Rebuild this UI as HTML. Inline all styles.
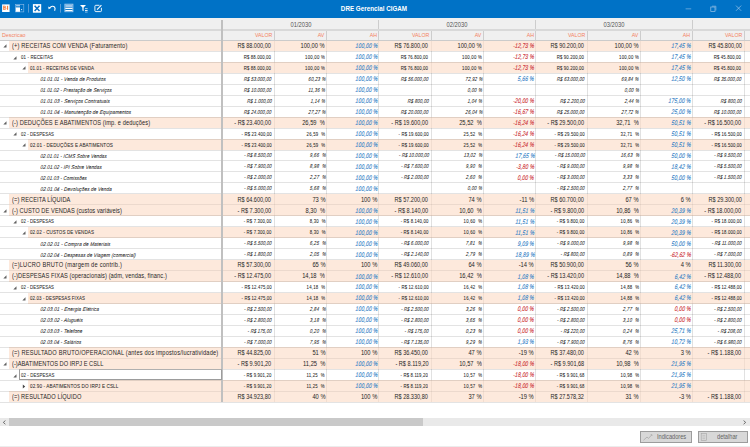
<!DOCTYPE html><html><head><meta charset="utf-8"><style>
*{margin:0;padding:0;box-sizing:border-box}
html,body{width:750px;height:447px;overflow:hidden;background:#fff}
body{position:relative;font-family:"Liberation Sans",sans-serif;color:#262626}
.a{position:absolute}
.t{position:absolute;white-space:nowrap;line-height:1;-webkit-text-stroke:0.1px currentColor}
.r{text-align:right}
</style></head><body>

<div class="a" style="left:0.00px;top:0.00px;width:750.00px;height:17.60px;background:#0072c6;"></div>
<div class="a" style="left:0.00px;top:17.60px;width:750.00px;height:22.70px;background:#f0f0f0;"></div>
<div class="a" style="left:0.00px;top:28.80px;width:750.00px;height:2.00px;background:#d9d9d9;"></div>
<div class="a" style="left:274.00px;top:40.30px;width:1.00px;height:362.01px;background:#e1e1e1;"></div>
<div class="a" style="left:326.20px;top:40.30px;width:1.00px;height:362.01px;background:#e1e1e1;"></div>
<div class="a" style="left:378.20px;top:40.30px;width:1.00px;height:362.01px;background:#e1e1e1;"></div>
<div class="a" style="left:431.10px;top:40.30px;width:1.00px;height:362.01px;background:#e1e1e1;"></div>
<div class="a" style="left:483.10px;top:40.30px;width:1.00px;height:362.01px;background:#e1e1e1;"></div>
<div class="a" style="left:535.10px;top:40.30px;width:1.00px;height:362.01px;background:#e1e1e1;"></div>
<div class="a" style="left:587.10px;top:40.30px;width:1.00px;height:362.01px;background:#e1e1e1;"></div>
<div class="a" style="left:639.90px;top:40.30px;width:1.00px;height:362.01px;background:#e1e1e1;"></div>
<div class="a" style="left:691.90px;top:40.30px;width:1.00px;height:362.01px;background:#e1e1e1;"></div>
<div class="a" style="left:744.20px;top:40.30px;width:1.00px;height:362.01px;background:#e1e1e1;"></div>
<div class="a" style="left:9.30px;top:40.30px;width:740.70px;height:10.97px;background:rgba(252,218,197,0.6);"></div>
<div class="a" style="left:28.00px;top:62.24px;width:722.00px;height:10.97px;background:rgba(252,218,197,0.6);"></div>
<div class="a" style="left:9.30px;top:117.09px;width:740.70px;height:10.97px;background:rgba(252,218,197,0.6);"></div>
<div class="a" style="left:28.00px;top:139.03px;width:722.00px;height:10.97px;background:rgba(252,218,197,0.6);"></div>
<div class="a" style="left:9.30px;top:193.88px;width:740.70px;height:10.97px;background:rgba(252,218,197,0.6);"></div>
<div class="a" style="left:9.30px;top:204.85px;width:740.70px;height:10.97px;background:rgba(252,218,197,0.6);"></div>
<div class="a" style="left:28.00px;top:226.79px;width:722.00px;height:10.97px;background:rgba(252,218,197,0.6);"></div>
<div class="a" style="left:9.30px;top:259.70px;width:740.70px;height:10.97px;background:rgba(252,218,197,0.6);"></div>
<div class="a" style="left:9.30px;top:270.67px;width:740.70px;height:10.97px;background:rgba(252,218,197,0.6);"></div>
<div class="a" style="left:28.00px;top:292.61px;width:722.00px;height:10.97px;background:rgba(252,218,197,0.6);"></div>
<div class="a" style="left:9.30px;top:347.46px;width:740.70px;height:10.97px;background:rgba(252,218,197,0.6);"></div>
<div class="a" style="left:9.30px;top:358.43px;width:740.70px;height:10.97px;background:rgba(252,218,197,0.6);"></div>
<div class="a" style="left:28.00px;top:380.37px;width:722.00px;height:10.97px;background:rgba(252,218,197,0.6);"></div>
<div class="a" style="left:9.30px;top:391.34px;width:740.70px;height:10.97px;background:rgba(252,218,197,0.6);"></div>
<div class="a" style="left:0.00px;top:50.77px;width:750.00px;height:1.00px;background:rgba(0,0,0,0.11);"></div>
<div class="a" style="left:0.00px;top:61.74px;width:750.00px;height:1.00px;background:rgba(0,0,0,0.11);"></div>
<div class="a" style="left:0.00px;top:72.71px;width:750.00px;height:1.00px;background:rgba(0,0,0,0.11);"></div>
<div class="a" style="left:0.00px;top:83.68px;width:750.00px;height:1.00px;background:rgba(0,0,0,0.11);"></div>
<div class="a" style="left:0.00px;top:94.65px;width:750.00px;height:1.00px;background:rgba(0,0,0,0.11);"></div>
<div class="a" style="left:0.00px;top:105.62px;width:750.00px;height:1.00px;background:rgba(0,0,0,0.11);"></div>
<div class="a" style="left:0.00px;top:116.59px;width:750.00px;height:1.00px;background:rgba(0,0,0,0.11);"></div>
<div class="a" style="left:0.00px;top:127.56px;width:750.00px;height:1.00px;background:rgba(0,0,0,0.11);"></div>
<div class="a" style="left:0.00px;top:138.53px;width:750.00px;height:1.00px;background:rgba(0,0,0,0.11);"></div>
<div class="a" style="left:0.00px;top:149.50px;width:750.00px;height:1.00px;background:rgba(0,0,0,0.11);"></div>
<div class="a" style="left:0.00px;top:160.47px;width:750.00px;height:1.00px;background:rgba(0,0,0,0.11);"></div>
<div class="a" style="left:0.00px;top:171.44px;width:750.00px;height:1.00px;background:rgba(0,0,0,0.11);"></div>
<div class="a" style="left:0.00px;top:182.41px;width:750.00px;height:1.00px;background:rgba(0,0,0,0.11);"></div>
<div class="a" style="left:0.00px;top:193.38px;width:750.00px;height:1.00px;background:rgba(0,0,0,0.11);"></div>
<div class="a" style="left:0.00px;top:204.35px;width:9.30px;height:1.00px;background:rgba(0,0,0,0.11);"></div>
<div class="a" style="left:9.30px;top:204.35px;width:740.70px;height:1.00px;background:rgba(0,0,0,0.065);"></div>
<div class="a" style="left:0.00px;top:215.32px;width:750.00px;height:1.00px;background:rgba(0,0,0,0.11);"></div>
<div class="a" style="left:0.00px;top:226.29px;width:750.00px;height:1.00px;background:rgba(0,0,0,0.11);"></div>
<div class="a" style="left:0.00px;top:237.26px;width:750.00px;height:1.00px;background:rgba(0,0,0,0.11);"></div>
<div class="a" style="left:0.00px;top:248.23px;width:750.00px;height:1.00px;background:rgba(0,0,0,0.11);"></div>
<div class="a" style="left:0.00px;top:259.20px;width:750.00px;height:1.00px;background:rgba(0,0,0,0.11);"></div>
<div class="a" style="left:0.00px;top:270.17px;width:9.30px;height:1.00px;background:rgba(0,0,0,0.11);"></div>
<div class="a" style="left:9.30px;top:270.17px;width:740.70px;height:1.00px;background:rgba(0,0,0,0.065);"></div>
<div class="a" style="left:0.00px;top:281.14px;width:750.00px;height:1.00px;background:rgba(0,0,0,0.11);"></div>
<div class="a" style="left:0.00px;top:292.11px;width:750.00px;height:1.00px;background:rgba(0,0,0,0.11);"></div>
<div class="a" style="left:0.00px;top:303.08px;width:750.00px;height:1.00px;background:rgba(0,0,0,0.11);"></div>
<div class="a" style="left:0.00px;top:314.05px;width:750.00px;height:1.00px;background:rgba(0,0,0,0.11);"></div>
<div class="a" style="left:0.00px;top:325.02px;width:750.00px;height:1.00px;background:rgba(0,0,0,0.11);"></div>
<div class="a" style="left:0.00px;top:335.99px;width:750.00px;height:1.00px;background:rgba(0,0,0,0.11);"></div>
<div class="a" style="left:0.00px;top:346.96px;width:750.00px;height:1.00px;background:rgba(0,0,0,0.11);"></div>
<div class="a" style="left:0.00px;top:357.93px;width:9.30px;height:1.00px;background:rgba(0,0,0,0.11);"></div>
<div class="a" style="left:9.30px;top:357.93px;width:740.70px;height:1.00px;background:rgba(0,0,0,0.065);"></div>
<div class="a" style="left:0.00px;top:368.90px;width:750.00px;height:1.00px;background:rgba(0,0,0,0.11);"></div>
<div class="a" style="left:0.00px;top:379.87px;width:750.00px;height:1.00px;background:rgba(0,0,0,0.11);"></div>
<div class="a" style="left:0.00px;top:390.84px;width:28.00px;height:1.00px;background:rgba(0,0,0,0.11);"></div>
<div class="a" style="left:28.00px;top:390.84px;width:722.00px;height:1.00px;background:rgba(0,0,0,0.065);"></div>
<div class="a" style="left:0.00px;top:401.81px;width:750.00px;height:1.00px;background:rgba(0,0,0,0.11);"></div>
<div class="a" style="left:0.00px;top:39.70px;width:750.00px;height:1.00px;background:#cbcbcb;"></div>
<div class="a" style="left:274.00px;top:30.80px;width:1.00px;height:9.00px;background:#cdcdcd;"></div>
<div class="a" style="left:326.20px;top:30.80px;width:1.00px;height:9.00px;background:#cdcdcd;"></div>
<div class="a" style="left:378.20px;top:30.80px;width:1.00px;height:9.00px;background:#cdcdcd;"></div>
<div class="a" style="left:431.10px;top:30.80px;width:1.00px;height:9.00px;background:#cdcdcd;"></div>
<div class="a" style="left:483.10px;top:30.80px;width:1.00px;height:9.00px;background:#cdcdcd;"></div>
<div class="a" style="left:535.10px;top:30.80px;width:1.00px;height:9.00px;background:#cdcdcd;"></div>
<div class="a" style="left:587.10px;top:30.80px;width:1.00px;height:9.00px;background:#cdcdcd;"></div>
<div class="a" style="left:639.90px;top:30.80px;width:1.00px;height:9.00px;background:#cdcdcd;"></div>
<div class="a" style="left:691.90px;top:30.80px;width:1.00px;height:9.00px;background:#cdcdcd;"></div>
<div class="a" style="left:744.20px;top:30.80px;width:1.00px;height:9.00px;background:#cdcdcd;"></div>
<div class="a" style="left:378.20px;top:19.50px;width:1.00px;height:9.30px;background:#cdcdcd;"></div>
<div class="a" style="left:535.10px;top:19.50px;width:1.00px;height:9.30px;background:#cdcdcd;"></div>
<div class="a" style="left:691.90px;top:19.50px;width:1.00px;height:9.30px;background:#cdcdcd;"></div>
<div class="a" style="left:221.00px;top:19.80px;width:2.00px;height:382.51px;background:#c0c0c0;"></div>
<div class="t" style="left:2.00px;top:33.01px;font-size:5.3px;-webkit-text-stroke:0px;color:#f4825e;">Descricao</div>
<div class="t" style="left:100.50px;width:400px;text-align:center;top:22.27px;font-size:6.3px;-webkit-text-stroke:0px;transform:scaleX(0.92);transform-origin:50% 0;color:#555;">01/2030</div>
<div class="t" style="left:257.15px;width:400px;text-align:center;top:22.27px;font-size:6.3px;-webkit-text-stroke:0px;transform:scaleX(0.92);transform-origin:50% 0;color:#555;">02/2030</div>
<div class="t" style="left:414.00px;width:400px;text-align:center;top:22.27px;font-size:6.3px;-webkit-text-stroke:0px;transform:scaleX(0.92);transform-origin:50% 0;color:#555;">03/2030</div>
<div class="t" style="right:477.50px;top:33.09px;font-size:5.8px;-webkit-text-stroke:0px;transform:scaleX(0.9);transform-origin:100% 100%;color:#f4825e;">VALOR</div>
<div class="t" style="right:425.30px;top:33.09px;font-size:5.8px;-webkit-text-stroke:0px;transform:scaleX(0.9);transform-origin:100% 100%;color:#f4825e;">AV</div>
<div class="t" style="right:373.30px;top:33.09px;font-size:5.8px;-webkit-text-stroke:0px;transform:scaleX(0.9);transform-origin:100% 100%;color:#f4825e;">AH</div>
<div class="t" style="right:320.40px;top:33.09px;font-size:5.8px;-webkit-text-stroke:0px;transform:scaleX(0.9);transform-origin:100% 100%;color:#f4825e;">VALOR</div>
<div class="t" style="right:268.40px;top:33.09px;font-size:5.8px;-webkit-text-stroke:0px;transform:scaleX(0.9);transform-origin:100% 100%;color:#f4825e;">AV</div>
<div class="t" style="right:216.40px;top:33.09px;font-size:5.8px;-webkit-text-stroke:0px;transform:scaleX(0.9);transform-origin:100% 100%;color:#f4825e;">AH</div>
<div class="t" style="right:164.40px;top:33.09px;font-size:5.8px;-webkit-text-stroke:0px;transform:scaleX(0.9);transform-origin:100% 100%;color:#f4825e;">VALOR</div>
<div class="t" style="right:111.60px;top:33.09px;font-size:5.8px;-webkit-text-stroke:0px;transform:scaleX(0.9);transform-origin:100% 100%;color:#f4825e;">AV</div>
<div class="t" style="right:59.60px;top:33.09px;font-size:5.8px;-webkit-text-stroke:0px;transform:scaleX(0.9);transform-origin:100% 100%;color:#f4825e;">AH</div>
<div class="t" style="right:7.30px;top:33.09px;font-size:5.8px;-webkit-text-stroke:0px;transform:scaleX(0.9);transform-origin:100% 100%;color:#f4825e;">VALOR</div>
<div class="t" style="right:-45.00px;top:33.09px;font-size:5.8px;-webkit-text-stroke:0px;transform:scaleX(0.9);transform-origin:100% 100%;color:#f4825e;">AV</div>
<div class="t" style="left:11.60px;top:43.01px;font-size:6.6px;letter-spacing:0.186px;-webkit-text-stroke:0px;transform:scaleX(0.86);transform-origin:0 100%;">(+) RECEITAS COM VENDA (Faturamento)</div>
<svg class="a" style="left:3.30px;top:44.30px" width="4" height="4" viewBox="0 0 4 4"><path d="M3.5 0.3 L3.5 3.5 L0.3 3.5 Z" fill="#606060"/></svg>
<div class="t" style="left:21.00px;top:54.88px;font-size:5.3px;letter-spacing:0.120px;-webkit-text-stroke:0.05px currentColor;transform:scaleX(0.8386314255833363);transform-origin:0 100%;">01 - RECEITAS</div>
<svg class="a" style="left:12.80px;top:55.67px" width="4" height="4" viewBox="0 0 4 4"><path d="M3.5 0.3 L3.5 3.5 L0.3 3.5 Z" fill="#606060"/></svg>
<div class="t" style="left:30.00px;top:65.85px;font-size:5.3px;letter-spacing:0.120px;-webkit-text-stroke:0.05px currentColor;transform:scaleX(0.8473110699039907);transform-origin:0 100%;">01.01 - RECEITAS DE VENDA</div>
<svg class="a" style="left:22.40px;top:66.24px" width="4" height="4" viewBox="0 0 4 4"><path d="M3.5 0.3 L3.5 3.5 L0.3 3.5 Z" fill="#606060"/></svg>
<div class="t" style="left:39.60px;top:77.05px;font-size:5.5px;letter-spacing:0.120px;-webkit-text-stroke:0.05px currentColor;transform:scaleX(0.8557479207386388) skewX(-8deg);transform-origin:0 100%;font-style:italic;">01.01.01 - Venda de Produtos</div>
<div class="t" style="left:39.60px;top:88.02px;font-size:5.5px;letter-spacing:0.120px;-webkit-text-stroke:0.05px currentColor;transform:scaleX(0.8395616994069273) skewX(-8deg);transform-origin:0 100%;font-style:italic;">01.01.02 - Prestação de Serviços</div>
<div class="t" style="left:39.60px;top:98.99px;font-size:5.5px;letter-spacing:0.120px;-webkit-text-stroke:0.05px currentColor;transform:scaleX(0.8606109105141753) skewX(-8deg);transform-origin:0 100%;font-style:italic;">01.01.03 - Serviços Contratuais</div>
<div class="t" style="left:39.60px;top:109.96px;font-size:5.5px;letter-spacing:0.120px;-webkit-text-stroke:0.05px currentColor;transform:scaleX(0.8629179313253227) skewX(-8deg);transform-origin:0 100%;font-style:italic;">01.01.04 - Manutenção de Equipamentos</div>
<div class="t" style="left:11.60px;top:119.80px;font-size:6.6px;letter-spacing:0.135px;-webkit-text-stroke:0px;transform:scaleX(0.86);transform-origin:0 100%;">(-) DEDUÇÕES E ABATIMENTOS (imp. e deduções)</div>
<svg class="a" style="left:3.30px;top:121.09px" width="4" height="4" viewBox="0 0 4 4"><path d="M3.5 0.3 L3.5 3.5 L0.3 3.5 Z" fill="#606060"/></svg>
<div class="t" style="left:21.00px;top:131.67px;font-size:5.3px;letter-spacing:0.120px;-webkit-text-stroke:0.05px currentColor;transform:scaleX(0.8124358071849793);transform-origin:0 100%;">02 - DESPESAS</div>
<svg class="a" style="left:12.80px;top:132.46px" width="4" height="4" viewBox="0 0 4 4"><path d="M3.5 0.3 L3.5 3.5 L0.3 3.5 Z" fill="#606060"/></svg>
<div class="t" style="left:30.00px;top:142.64px;font-size:5.3px;letter-spacing:0.120px;-webkit-text-stroke:0.05px currentColor;transform:scaleX(0.8720552743830315);transform-origin:0 100%;">02.01 - DEDUÇÕES E ABATIMENTOS</div>
<svg class="a" style="left:22.40px;top:143.03px" width="4" height="4" viewBox="0 0 4 4"><path d="M3.5 0.3 L3.5 3.5 L0.3 3.5 Z" fill="#606060"/></svg>
<div class="t" style="left:39.60px;top:153.84px;font-size:5.5px;letter-spacing:0.120px;-webkit-text-stroke:0.05px currentColor;transform:scaleX(0.835535422171889) skewX(-8deg);transform-origin:0 100%;font-style:italic;">02.01.01 - ICMS Sobre Vendas</div>
<div class="t" style="left:39.60px;top:164.81px;font-size:5.5px;letter-spacing:0.120px;-webkit-text-stroke:0.05px currentColor;transform:scaleX(0.8489503162283758) skewX(-8deg);transform-origin:0 100%;font-style:italic;">02.01.02 - IPI Sobre Vendas</div>
<div class="t" style="left:39.60px;top:175.78px;font-size:5.5px;letter-spacing:0.120px;-webkit-text-stroke:0.05px currentColor;transform:scaleX(0.8318463594116345) skewX(-8deg);transform-origin:0 100%;font-style:italic;">02.01.03 - Comissões</div>
<div class="t" style="left:39.60px;top:186.75px;font-size:5.5px;letter-spacing:0.120px;-webkit-text-stroke:0.05px currentColor;transform:scaleX(0.8562282001051174) skewX(-8deg);transform-origin:0 100%;font-style:italic;">02.01.04 - Devoluções de Venda</div>
<div class="t" style="left:11.60px;top:196.59px;font-size:6.6px;letter-spacing:0.102px;-webkit-text-stroke:0px;transform:scaleX(0.86);transform-origin:0 100%;">(=) RECEITA LÍQUIDA</div>
<div class="t" style="left:11.60px;top:207.56px;font-size:6.6px;letter-spacing:0.090px;-webkit-text-stroke:0px;transform:scaleX(0.86);transform-origin:0 100%;">(-) CUSTO DE VENDAS (custos variáveis)</div>
<svg class="a" style="left:3.30px;top:208.85px" width="4" height="4" viewBox="0 0 4 4"><path d="M3.5 0.3 L3.5 3.5 L0.3 3.5 Z" fill="#606060"/></svg>
<div class="t" style="left:21.00px;top:219.43px;font-size:5.3px;letter-spacing:0.120px;-webkit-text-stroke:0.05px currentColor;transform:scaleX(0.8124358071849793);transform-origin:0 100%;">02 - DESPESAS</div>
<svg class="a" style="left:12.80px;top:220.22px" width="4" height="4" viewBox="0 0 4 4"><path d="M3.5 0.3 L3.5 3.5 L0.3 3.5 Z" fill="#606060"/></svg>
<div class="t" style="left:30.00px;top:230.40px;font-size:5.3px;letter-spacing:0.120px;-webkit-text-stroke:0.05px currentColor;transform:scaleX(0.8553280295756395);transform-origin:0 100%;">02.02 - CUSTOS DE VENDAS</div>
<svg class="a" style="left:22.40px;top:230.79px" width="4" height="4" viewBox="0 0 4 4"><path d="M3.5 0.3 L3.5 3.5 L0.3 3.5 Z" fill="#606060"/></svg>
<div class="t" style="left:39.60px;top:241.60px;font-size:5.5px;letter-spacing:0.120px;-webkit-text-stroke:0.05px currentColor;transform:scaleX(0.8660820612753058) skewX(-8deg);transform-origin:0 100%;font-style:italic;">02.02.01 - Compra de Materiais</div>
<div class="t" style="left:39.60px;top:252.57px;font-size:5.5px;letter-spacing:0.120px;-webkit-text-stroke:0.05px currentColor;transform:scaleX(0.8517714547189501) skewX(-8deg);transform-origin:0 100%;font-style:italic;">02.02.04 - Despesas de Viagem (comercial)</div>
<div class="t" style="left:11.60px;top:262.41px;font-size:6.6px;letter-spacing:0.254px;-webkit-text-stroke:0px;transform:scaleX(0.86);transform-origin:0 100%;">(=)LUCRO BRUTO (margem de contrib.)</div>
<div class="t" style="left:11.60px;top:273.38px;font-size:6.6px;letter-spacing:0.118px;-webkit-text-stroke:0px;transform:scaleX(0.86);transform-origin:0 100%;">(-)DESPESAS FIXAS (operacionais) (adm, vendas, financ.)</div>
<svg class="a" style="left:3.30px;top:274.67px" width="4" height="4" viewBox="0 0 4 4"><path d="M3.5 0.3 L3.5 3.5 L0.3 3.5 Z" fill="#606060"/></svg>
<div class="t" style="left:21.00px;top:285.25px;font-size:5.3px;letter-spacing:0.120px;-webkit-text-stroke:0.05px currentColor;transform:scaleX(0.8124358071849793);transform-origin:0 100%;">02 - DESPESAS</div>
<svg class="a" style="left:12.80px;top:286.04px" width="4" height="4" viewBox="0 0 4 4"><path d="M3.5 0.3 L3.5 3.5 L0.3 3.5 Z" fill="#606060"/></svg>
<div class="t" style="left:30.00px;top:296.22px;font-size:5.3px;letter-spacing:0.120px;-webkit-text-stroke:0.05px currentColor;transform:scaleX(0.8351786748514178);transform-origin:0 100%;">02.03 - DESPESAS FIXAS</div>
<svg class="a" style="left:22.40px;top:296.61px" width="4" height="4" viewBox="0 0 4 4"><path d="M3.5 0.3 L3.5 3.5 L0.3 3.5 Z" fill="#606060"/></svg>
<div class="t" style="left:39.60px;top:307.42px;font-size:5.5px;letter-spacing:0.120px;-webkit-text-stroke:0.05px currentColor;transform:scaleX(0.8616321600906693) skewX(-8deg);transform-origin:0 100%;font-style:italic;">02.03.01 - Energia Elétrica</div>
<div class="t" style="left:39.60px;top:318.39px;font-size:5.5px;letter-spacing:0.120px;-webkit-text-stroke:0.05px currentColor;transform:scaleX(0.8591542383855397) skewX(-8deg);transform-origin:0 100%;font-style:italic;">02.03.02 - Aluguéis</div>
<div class="t" style="left:39.60px;top:329.36px;font-size:5.5px;letter-spacing:0.120px;-webkit-text-stroke:0.05px currentColor;transform:scaleX(0.850960100165095) skewX(-8deg);transform-origin:0 100%;font-style:italic;">02.03.03 - Telefone</div>
<div class="t" style="left:39.60px;top:340.33px;font-size:5.5px;letter-spacing:0.120px;-webkit-text-stroke:0.05px currentColor;transform:scaleX(0.8442425516093052) skewX(-8deg);transform-origin:0 100%;font-style:italic;">02.03.04 - Salários</div>
<div class="t" style="left:11.60px;top:350.17px;font-size:6.6px;letter-spacing:0.223px;-webkit-text-stroke:0px;transform:scaleX(0.86);transform-origin:0 100%;">(=) RESULTADO BRUTO/OPERACIONAL (antes dos impostos/lucratividade)</div>
<div class="t" style="left:11.60px;top:361.14px;font-size:6.6px;letter-spacing:0.019px;-webkit-text-stroke:0px;transform:scaleX(0.86);transform-origin:0 100%;">(-)ABATIMENTOS DO IRPJ E CSLL</div>
<svg class="a" style="left:3.30px;top:362.43px" width="4" height="4" viewBox="0 0 4 4"><path d="M3.5 0.3 L3.5 3.5 L0.3 3.5 Z" fill="#606060"/></svg>
<div class="t" style="left:21.00px;top:373.01px;font-size:5.3px;letter-spacing:0.120px;-webkit-text-stroke:0.05px currentColor;transform:scaleX(0.8222835139387366);transform-origin:0 100%;">02 - DESPESAS</div>
<svg class="a" style="left:12.80px;top:373.80px" width="4" height="4" viewBox="0 0 4 4"><path d="M3.5 0.3 L3.5 3.5 L0.3 3.5 Z" fill="#606060"/></svg>
<div class="t" style="left:30.00px;top:383.98px;font-size:5.3px;letter-spacing:0.120px;-webkit-text-stroke:0.05px currentColor;transform:scaleX(0.8730240416464071);transform-origin:0 100%;">02.90 - ABATIMENTOS DO IRPJ E CSLL</div>
<svg class="a" style="left:22.40px;top:383.97px" width="4" height="5" viewBox="0 0 4 5"><path d="M0.8 0.5 L3.2 2.5 L0.8 4.5 Z" fill="#444"/></svg>
<div class="t" style="left:11.60px;top:394.05px;font-size:6.6px;letter-spacing:0.114px;-webkit-text-stroke:0px;transform:scaleX(0.86);transform-origin:0 100%;">(=) RESULTADO LÍQUIDO</div>
<div class="t" style="right:478.80px;top:43.04px;font-size:6.8px;-webkit-text-stroke:0px;transform:scaleX(0.8162);transform-origin:100% 100%;">R$ 88.000,00</div>
<div class="t" style="right:425.00px;top:43.04px;font-size:6.8px;-webkit-text-stroke:0px;transform:scaleX(0.8456);transform-origin:100% 100%;">100,00 %</div>
<div class="t" style="right:372.67px;top:43.13px;font-size:6.7px;-webkit-text-stroke:0.1px currentColor;letter-spacing:0.165px;transform:scaleX(0.76) skewX(-8deg);transform-origin:100% 100%;color:#2f7ec6;font-style:italic;">100,00 %</div>
<div class="t" style="right:478.66px;top:54.76px;font-size:5.8px;-webkit-text-stroke:0.06px currentColor;letter-spacing:0.190px;transform:scaleX(0.74);transform-origin:100% 100%;">R$ 88.000,00</div>
<div class="t" style="right:424.77px;top:54.76px;font-size:5.8px;-webkit-text-stroke:0.06px currentColor;letter-spacing:0.317px;transform:scaleX(0.74);transform-origin:100% 100%;">100,00 %</div>
<div class="t" style="right:372.67px;top:54.10px;font-size:6.7px;-webkit-text-stroke:0.1px currentColor;letter-spacing:0.165px;transform:scaleX(0.76) skewX(-8deg);transform-origin:100% 100%;color:#2f7ec6;font-style:italic;">100,00 %</div>
<div class="t" style="right:478.66px;top:65.73px;font-size:5.8px;-webkit-text-stroke:0.06px currentColor;letter-spacing:0.190px;transform:scaleX(0.74);transform-origin:100% 100%;">R$ 88.000,00</div>
<div class="t" style="right:424.77px;top:65.73px;font-size:5.8px;-webkit-text-stroke:0.06px currentColor;letter-spacing:0.317px;transform:scaleX(0.74);transform-origin:100% 100%;">100,00 %</div>
<div class="t" style="right:372.67px;top:65.07px;font-size:6.7px;-webkit-text-stroke:0.1px currentColor;letter-spacing:0.165px;transform:scaleX(0.76) skewX(-8deg);transform-origin:100% 100%;color:#2f7ec6;font-style:italic;">100,00 %</div>
<div class="t" style="right:478.66px;top:76.70px;font-size:5.8px;-webkit-text-stroke:0.06px currentColor;letter-spacing:0.190px;transform:scaleX(0.74) skewX(-8deg);transform-origin:100% 100%;font-style:italic;">R$ 53.000,00</div>
<div class="t" style="right:424.76px;top:76.70px;font-size:5.8px;-webkit-text-stroke:0.06px currentColor;letter-spacing:0.321px;transform:scaleX(0.74) skewX(-8deg);transform-origin:100% 100%;font-style:italic;">60,23 %</div>
<div class="t" style="right:372.67px;top:76.04px;font-size:6.7px;-webkit-text-stroke:0.1px currentColor;letter-spacing:0.165px;transform:scaleX(0.76) skewX(-8deg);transform-origin:100% 100%;color:#2f7ec6;font-style:italic;">100,00 %</div>
<div class="t" style="right:478.66px;top:87.67px;font-size:5.8px;-webkit-text-stroke:0.06px currentColor;letter-spacing:0.190px;transform:scaleX(0.74) skewX(-8deg);transform-origin:100% 100%;font-style:italic;">R$ 10.000,00</div>
<div class="t" style="right:424.77px;top:87.67px;font-size:5.8px;-webkit-text-stroke:0.06px currentColor;letter-spacing:0.314px;transform:scaleX(0.74) skewX(-8deg);transform-origin:100% 100%;font-style:italic;">11,36 %</div>
<div class="t" style="right:372.67px;top:87.01px;font-size:6.7px;-webkit-text-stroke:0.1px currentColor;letter-spacing:0.165px;transform:scaleX(0.76) skewX(-8deg);transform-origin:100% 100%;color:#2f7ec6;font-style:italic;">100,00 %</div>
<div class="t" style="right:478.66px;top:98.64px;font-size:5.8px;-webkit-text-stroke:0.06px currentColor;letter-spacing:0.190px;transform:scaleX(0.74) skewX(-8deg);transform-origin:100% 100%;font-style:italic;">R$ 1.000,00</div>
<div class="t" style="right:424.76px;top:98.64px;font-size:5.8px;-webkit-text-stroke:0.06px currentColor;letter-spacing:0.326px;transform:scaleX(0.74) skewX(-8deg);transform-origin:100% 100%;font-style:italic;">1,14 %</div>
<div class="t" style="right:372.67px;top:97.98px;font-size:6.7px;-webkit-text-stroke:0.1px currentColor;letter-spacing:0.165px;transform:scaleX(0.76) skewX(-8deg);transform-origin:100% 100%;color:#2f7ec6;font-style:italic;">100,00 %</div>
<div class="t" style="right:478.66px;top:109.61px;font-size:5.8px;-webkit-text-stroke:0.06px currentColor;letter-spacing:0.190px;transform:scaleX(0.74) skewX(-8deg);transform-origin:100% 100%;font-style:italic;">R$ 24.000,00</div>
<div class="t" style="right:424.76px;top:109.61px;font-size:5.8px;-webkit-text-stroke:0.06px currentColor;letter-spacing:0.321px;transform:scaleX(0.74) skewX(-8deg);transform-origin:100% 100%;font-style:italic;">27,27 %</div>
<div class="t" style="right:372.67px;top:108.95px;font-size:6.7px;-webkit-text-stroke:0.1px currentColor;letter-spacing:0.165px;transform:scaleX(0.76) skewX(-8deg);transform-origin:100% 100%;color:#2f7ec6;font-style:italic;">100,00 %</div>
<div class="t" style="right:478.80px;top:119.83px;font-size:6.8px;-webkit-text-stroke:0px;transform:scaleX(0.8162);transform-origin:100% 100%;">- R$ 23.400,00</div>
<div class="t" style="right:425.00px;top:119.83px;font-size:6.8px;-webkit-text-stroke:0px;transform:scaleX(0.8456);transform-origin:100% 100%;">26,59&nbsp;&nbsp;%</div>
<div class="t" style="right:372.67px;top:119.92px;font-size:6.7px;-webkit-text-stroke:0.1px currentColor;letter-spacing:0.165px;transform:scaleX(0.76) skewX(-8deg);transform-origin:100% 100%;color:#2f7ec6;font-style:italic;">100,00 %</div>
<div class="t" style="right:478.67px;top:131.55px;font-size:5.8px;-webkit-text-stroke:0.06px currentColor;letter-spacing:0.177px;transform:scaleX(0.74);transform-origin:100% 100%;">- R$ 23.400,00</div>
<div class="t" style="right:424.78px;top:131.55px;font-size:5.8px;-webkit-text-stroke:0.06px currentColor;letter-spacing:0.296px;transform:scaleX(0.74);transform-origin:100% 100%;">26,59&nbsp;&nbsp;%</div>
<div class="t" style="right:372.67px;top:130.89px;font-size:6.7px;-webkit-text-stroke:0.1px currentColor;letter-spacing:0.165px;transform:scaleX(0.76) skewX(-8deg);transform-origin:100% 100%;color:#2f7ec6;font-style:italic;">100,00 %</div>
<div class="t" style="right:478.67px;top:142.52px;font-size:5.8px;-webkit-text-stroke:0.06px currentColor;letter-spacing:0.177px;transform:scaleX(0.74);transform-origin:100% 100%;">- R$ 23.400,00</div>
<div class="t" style="right:424.78px;top:142.52px;font-size:5.8px;-webkit-text-stroke:0.06px currentColor;letter-spacing:0.296px;transform:scaleX(0.74);transform-origin:100% 100%;">26,59&nbsp;&nbsp;%</div>
<div class="t" style="right:372.67px;top:141.86px;font-size:6.7px;-webkit-text-stroke:0.1px currentColor;letter-spacing:0.165px;transform:scaleX(0.76) skewX(-8deg);transform-origin:100% 100%;color:#2f7ec6;font-style:italic;">100,00 %</div>
<div class="t" style="right:478.67px;top:153.49px;font-size:5.8px;-webkit-text-stroke:0.06px currentColor;letter-spacing:0.176px;transform:scaleX(0.74) skewX(-8deg);transform-origin:100% 100%;font-style:italic;">- R$ 8.500,00</div>
<div class="t" style="right:424.78px;top:153.49px;font-size:5.8px;-webkit-text-stroke:0.06px currentColor;letter-spacing:0.296px;transform:scaleX(0.74) skewX(-8deg);transform-origin:100% 100%;font-style:italic;">9,66&nbsp;&nbsp;%</div>
<div class="t" style="right:372.67px;top:152.83px;font-size:6.7px;-webkit-text-stroke:0.1px currentColor;letter-spacing:0.165px;transform:scaleX(0.76) skewX(-8deg);transform-origin:100% 100%;color:#2f7ec6;font-style:italic;">100,00 %</div>
<div class="t" style="right:478.67px;top:164.46px;font-size:5.8px;-webkit-text-stroke:0.06px currentColor;letter-spacing:0.176px;transform:scaleX(0.74) skewX(-8deg);transform-origin:100% 100%;font-style:italic;">- R$ 7.900,00</div>
<div class="t" style="right:424.78px;top:164.46px;font-size:5.8px;-webkit-text-stroke:0.06px currentColor;letter-spacing:0.296px;transform:scaleX(0.74) skewX(-8deg);transform-origin:100% 100%;font-style:italic;">8,98&nbsp;&nbsp;%</div>
<div class="t" style="right:372.67px;top:163.80px;font-size:6.7px;-webkit-text-stroke:0.1px currentColor;letter-spacing:0.165px;transform:scaleX(0.76) skewX(-8deg);transform-origin:100% 100%;color:#2f7ec6;font-style:italic;">100,00 %</div>
<div class="t" style="right:478.67px;top:175.43px;font-size:5.8px;-webkit-text-stroke:0.06px currentColor;letter-spacing:0.176px;transform:scaleX(0.74) skewX(-8deg);transform-origin:100% 100%;font-style:italic;">- R$ 2.000,00</div>
<div class="t" style="right:424.78px;top:175.43px;font-size:5.8px;-webkit-text-stroke:0.06px currentColor;letter-spacing:0.296px;transform:scaleX(0.74) skewX(-8deg);transform-origin:100% 100%;font-style:italic;">2,27&nbsp;&nbsp;%</div>
<div class="t" style="right:372.67px;top:174.77px;font-size:6.7px;-webkit-text-stroke:0.1px currentColor;letter-spacing:0.165px;transform:scaleX(0.76) skewX(-8deg);transform-origin:100% 100%;color:#2f7ec6;font-style:italic;">100,00 %</div>
<div class="t" style="right:478.67px;top:186.40px;font-size:5.8px;-webkit-text-stroke:0.06px currentColor;letter-spacing:0.176px;transform:scaleX(0.74) skewX(-8deg);transform-origin:100% 100%;font-style:italic;">- R$ 5.000,00</div>
<div class="t" style="right:424.78px;top:186.40px;font-size:5.8px;-webkit-text-stroke:0.06px currentColor;letter-spacing:0.296px;transform:scaleX(0.74) skewX(-8deg);transform-origin:100% 100%;font-style:italic;">5,68&nbsp;&nbsp;%</div>
<div class="t" style="right:372.67px;top:185.74px;font-size:6.7px;-webkit-text-stroke:0.1px currentColor;letter-spacing:0.165px;transform:scaleX(0.76) skewX(-8deg);transform-origin:100% 100%;color:#2f7ec6;font-style:italic;">100,00 %</div>
<div class="t" style="right:478.80px;top:196.62px;font-size:6.8px;-webkit-text-stroke:0px;transform:scaleX(0.8162);transform-origin:100% 100%;">R$ 64.600,00</div>
<div class="t" style="right:425.00px;top:196.62px;font-size:6.8px;-webkit-text-stroke:0px;transform:scaleX(0.8456);transform-origin:100% 100%;">73 %</div>
<div class="t" style="right:372.80px;top:196.62px;font-size:6.8px;-webkit-text-stroke:0px;transform:scaleX(0.85);transform-origin:100% 100%;">100 %</div>
<div class="t" style="right:478.80px;top:207.59px;font-size:6.8px;-webkit-text-stroke:0px;transform:scaleX(0.8162);transform-origin:100% 100%;">- R$ 7.300,00</div>
<div class="t" style="right:425.00px;top:207.59px;font-size:6.8px;-webkit-text-stroke:0px;transform:scaleX(0.8456);transform-origin:100% 100%;">8,30&nbsp;&nbsp;%</div>
<div class="t" style="right:372.67px;top:207.68px;font-size:6.7px;-webkit-text-stroke:0.1px currentColor;letter-spacing:0.165px;transform:scaleX(0.76) skewX(-8deg);transform-origin:100% 100%;color:#2f7ec6;font-style:italic;">100,00 %</div>
<div class="t" style="right:478.67px;top:219.31px;font-size:5.8px;-webkit-text-stroke:0.06px currentColor;letter-spacing:0.176px;transform:scaleX(0.74);transform-origin:100% 100%;">- R$ 7.300,00</div>
<div class="t" style="right:424.78px;top:219.31px;font-size:5.8px;-webkit-text-stroke:0.06px currentColor;letter-spacing:0.296px;transform:scaleX(0.74);transform-origin:100% 100%;">8,30&nbsp;&nbsp;%</div>
<div class="t" style="right:372.67px;top:218.65px;font-size:6.7px;-webkit-text-stroke:0.1px currentColor;letter-spacing:0.165px;transform:scaleX(0.76) skewX(-8deg);transform-origin:100% 100%;color:#2f7ec6;font-style:italic;">100,00 %</div>
<div class="t" style="right:478.67px;top:230.28px;font-size:5.8px;-webkit-text-stroke:0.06px currentColor;letter-spacing:0.176px;transform:scaleX(0.74);transform-origin:100% 100%;">- R$ 7.300,00</div>
<div class="t" style="right:424.78px;top:230.28px;font-size:5.8px;-webkit-text-stroke:0.06px currentColor;letter-spacing:0.296px;transform:scaleX(0.74);transform-origin:100% 100%;">8,30&nbsp;&nbsp;%</div>
<div class="t" style="right:372.67px;top:229.62px;font-size:6.7px;-webkit-text-stroke:0.1px currentColor;letter-spacing:0.165px;transform:scaleX(0.76) skewX(-8deg);transform-origin:100% 100%;color:#2f7ec6;font-style:italic;">100,00 %</div>
<div class="t" style="right:478.67px;top:241.25px;font-size:5.8px;-webkit-text-stroke:0.06px currentColor;letter-spacing:0.176px;transform:scaleX(0.74) skewX(-8deg);transform-origin:100% 100%;font-style:italic;">- R$ 5.500,00</div>
<div class="t" style="right:424.78px;top:241.25px;font-size:5.8px;-webkit-text-stroke:0.06px currentColor;letter-spacing:0.296px;transform:scaleX(0.74) skewX(-8deg);transform-origin:100% 100%;font-style:italic;">6,25&nbsp;&nbsp;%</div>
<div class="t" style="right:372.67px;top:240.59px;font-size:6.7px;-webkit-text-stroke:0.1px currentColor;letter-spacing:0.165px;transform:scaleX(0.76) skewX(-8deg);transform-origin:100% 100%;color:#2f7ec6;font-style:italic;">100,00 %</div>
<div class="t" style="right:478.67px;top:252.22px;font-size:5.8px;-webkit-text-stroke:0.06px currentColor;letter-spacing:0.176px;transform:scaleX(0.74) skewX(-8deg);transform-origin:100% 100%;font-style:italic;">- R$ 1.800,00</div>
<div class="t" style="right:424.78px;top:252.22px;font-size:5.8px;-webkit-text-stroke:0.06px currentColor;letter-spacing:0.296px;transform:scaleX(0.74) skewX(-8deg);transform-origin:100% 100%;font-style:italic;">2,05&nbsp;&nbsp;%</div>
<div class="t" style="right:372.67px;top:251.56px;font-size:6.7px;-webkit-text-stroke:0.1px currentColor;letter-spacing:0.165px;transform:scaleX(0.76) skewX(-8deg);transform-origin:100% 100%;color:#2f7ec6;font-style:italic;">100,00 %</div>
<div class="t" style="right:478.80px;top:262.44px;font-size:6.8px;-webkit-text-stroke:0px;transform:scaleX(0.8162);transform-origin:100% 100%;">R$ 57.300,00</div>
<div class="t" style="right:425.00px;top:262.44px;font-size:6.8px;-webkit-text-stroke:0px;transform:scaleX(0.8456);transform-origin:100% 100%;">65 %</div>
<div class="t" style="right:372.80px;top:262.44px;font-size:6.8px;-webkit-text-stroke:0px;transform:scaleX(0.85);transform-origin:100% 100%;">100 %</div>
<div class="t" style="right:478.80px;top:273.41px;font-size:6.8px;-webkit-text-stroke:0px;transform:scaleX(0.8162);transform-origin:100% 100%;">- R$ 12.475,00</div>
<div class="t" style="right:425.00px;top:273.41px;font-size:6.8px;-webkit-text-stroke:0px;transform:scaleX(0.8456);transform-origin:100% 100%;">14,18&nbsp;&nbsp;%</div>
<div class="t" style="right:372.67px;top:273.50px;font-size:6.7px;-webkit-text-stroke:0.1px currentColor;letter-spacing:0.165px;transform:scaleX(0.76) skewX(-8deg);transform-origin:100% 100%;color:#2f7ec6;font-style:italic;">100,00 %</div>
<div class="t" style="right:478.67px;top:285.13px;font-size:5.8px;-webkit-text-stroke:0.06px currentColor;letter-spacing:0.177px;transform:scaleX(0.74);transform-origin:100% 100%;">- R$ 12.475,00</div>
<div class="t" style="right:424.78px;top:285.13px;font-size:5.8px;-webkit-text-stroke:0.06px currentColor;letter-spacing:0.296px;transform:scaleX(0.74);transform-origin:100% 100%;">14,18&nbsp;&nbsp;%</div>
<div class="t" style="right:372.67px;top:284.47px;font-size:6.7px;-webkit-text-stroke:0.1px currentColor;letter-spacing:0.165px;transform:scaleX(0.76) skewX(-8deg);transform-origin:100% 100%;color:#2f7ec6;font-style:italic;">100,00 %</div>
<div class="t" style="right:478.67px;top:296.10px;font-size:5.8px;-webkit-text-stroke:0.06px currentColor;letter-spacing:0.177px;transform:scaleX(0.74);transform-origin:100% 100%;">- R$ 12.475,00</div>
<div class="t" style="right:424.78px;top:296.10px;font-size:5.8px;-webkit-text-stroke:0.06px currentColor;letter-spacing:0.296px;transform:scaleX(0.74);transform-origin:100% 100%;">14,18&nbsp;&nbsp;%</div>
<div class="t" style="right:372.67px;top:295.44px;font-size:6.7px;-webkit-text-stroke:0.1px currentColor;letter-spacing:0.165px;transform:scaleX(0.76) skewX(-8deg);transform-origin:100% 100%;color:#2f7ec6;font-style:italic;">100,00 %</div>
<div class="t" style="right:478.67px;top:307.07px;font-size:5.8px;-webkit-text-stroke:0.06px currentColor;letter-spacing:0.176px;transform:scaleX(0.74) skewX(-8deg);transform-origin:100% 100%;font-style:italic;">- R$ 2.500,00</div>
<div class="t" style="right:424.78px;top:307.07px;font-size:5.8px;-webkit-text-stroke:0.06px currentColor;letter-spacing:0.296px;transform:scaleX(0.74) skewX(-8deg);transform-origin:100% 100%;font-style:italic;">2,84&nbsp;&nbsp;%</div>
<div class="t" style="right:372.67px;top:306.41px;font-size:6.7px;-webkit-text-stroke:0.1px currentColor;letter-spacing:0.165px;transform:scaleX(0.76) skewX(-8deg);transform-origin:100% 100%;color:#2f7ec6;font-style:italic;">100,00 %</div>
<div class="t" style="right:478.67px;top:318.04px;font-size:5.8px;-webkit-text-stroke:0.06px currentColor;letter-spacing:0.176px;transform:scaleX(0.74) skewX(-8deg);transform-origin:100% 100%;font-style:italic;">- R$ 2.800,00</div>
<div class="t" style="right:424.78px;top:318.04px;font-size:5.8px;-webkit-text-stroke:0.06px currentColor;letter-spacing:0.296px;transform:scaleX(0.74) skewX(-8deg);transform-origin:100% 100%;font-style:italic;">3,18&nbsp;&nbsp;%</div>
<div class="t" style="right:372.67px;top:317.38px;font-size:6.7px;-webkit-text-stroke:0.1px currentColor;letter-spacing:0.165px;transform:scaleX(0.76) skewX(-8deg);transform-origin:100% 100%;color:#2f7ec6;font-style:italic;">100,00 %</div>
<div class="t" style="right:478.67px;top:329.01px;font-size:5.8px;-webkit-text-stroke:0.06px currentColor;letter-spacing:0.182px;transform:scaleX(0.74) skewX(-8deg);transform-origin:100% 100%;font-style:italic;">- R$ 175,00</div>
<div class="t" style="right:424.78px;top:329.01px;font-size:5.8px;-webkit-text-stroke:0.06px currentColor;letter-spacing:0.296px;transform:scaleX(0.74) skewX(-8deg);transform-origin:100% 100%;font-style:italic;">0,20&nbsp;&nbsp;%</div>
<div class="t" style="right:372.67px;top:328.35px;font-size:6.7px;-webkit-text-stroke:0.1px currentColor;letter-spacing:0.165px;transform:scaleX(0.76) skewX(-8deg);transform-origin:100% 100%;color:#2f7ec6;font-style:italic;">100,00 %</div>
<div class="t" style="right:478.67px;top:339.98px;font-size:5.8px;-webkit-text-stroke:0.06px currentColor;letter-spacing:0.176px;transform:scaleX(0.74) skewX(-8deg);transform-origin:100% 100%;font-style:italic;">- R$ 7.000,00</div>
<div class="t" style="right:424.78px;top:339.98px;font-size:5.8px;-webkit-text-stroke:0.06px currentColor;letter-spacing:0.296px;transform:scaleX(0.74) skewX(-8deg);transform-origin:100% 100%;font-style:italic;">7,95&nbsp;&nbsp;%</div>
<div class="t" style="right:372.67px;top:339.32px;font-size:6.7px;-webkit-text-stroke:0.1px currentColor;letter-spacing:0.165px;transform:scaleX(0.76) skewX(-8deg);transform-origin:100% 100%;color:#2f7ec6;font-style:italic;">100,00 %</div>
<div class="t" style="right:478.80px;top:350.20px;font-size:6.8px;-webkit-text-stroke:0px;transform:scaleX(0.8162);transform-origin:100% 100%;">R$ 44.825,00</div>
<div class="t" style="right:425.00px;top:350.20px;font-size:6.8px;-webkit-text-stroke:0px;transform:scaleX(0.8456);transform-origin:100% 100%;">51 %</div>
<div class="t" style="right:372.80px;top:350.20px;font-size:6.8px;-webkit-text-stroke:0px;transform:scaleX(0.85);transform-origin:100% 100%;">100 %</div>
<div class="t" style="right:478.80px;top:361.17px;font-size:6.8px;-webkit-text-stroke:0px;transform:scaleX(0.8162);transform-origin:100% 100%;">- R$ 9.901,20</div>
<div class="t" style="right:425.00px;top:361.17px;font-size:6.8px;-webkit-text-stroke:0px;transform:scaleX(0.8456);transform-origin:100% 100%;">11,25&nbsp;&nbsp;%</div>
<div class="t" style="right:372.67px;top:361.26px;font-size:6.7px;-webkit-text-stroke:0.1px currentColor;letter-spacing:0.165px;transform:scaleX(0.76) skewX(-8deg);transform-origin:100% 100%;color:#2f7ec6;font-style:italic;">100,00 %</div>
<div class="t" style="right:478.67px;top:372.89px;font-size:5.8px;-webkit-text-stroke:0.06px currentColor;letter-spacing:0.176px;transform:scaleX(0.74);transform-origin:100% 100%;">- R$ 9.901,20</div>
<div class="t" style="right:424.79px;top:372.89px;font-size:5.8px;-webkit-text-stroke:0.06px currentColor;letter-spacing:0.290px;transform:scaleX(0.74);transform-origin:100% 100%;">11,25&nbsp;&nbsp;%</div>
<div class="t" style="right:372.67px;top:372.23px;font-size:6.7px;-webkit-text-stroke:0.1px currentColor;letter-spacing:0.165px;transform:scaleX(0.76) skewX(-8deg);transform-origin:100% 100%;color:#2f7ec6;font-style:italic;">100,00 %</div>
<div class="t" style="right:478.67px;top:383.86px;font-size:5.8px;-webkit-text-stroke:0.06px currentColor;letter-spacing:0.176px;transform:scaleX(0.74);transform-origin:100% 100%;">- R$ 9.901,20</div>
<div class="t" style="right:424.79px;top:383.86px;font-size:5.8px;-webkit-text-stroke:0.06px currentColor;letter-spacing:0.290px;transform:scaleX(0.74);transform-origin:100% 100%;">11,25&nbsp;&nbsp;%</div>
<div class="t" style="right:372.67px;top:383.20px;font-size:6.7px;-webkit-text-stroke:0.1px currentColor;letter-spacing:0.165px;transform:scaleX(0.76) skewX(-8deg);transform-origin:100% 100%;color:#2f7ec6;font-style:italic;">100,00 %</div>
<div class="t" style="right:478.80px;top:394.08px;font-size:6.8px;-webkit-text-stroke:0px;transform:scaleX(0.8162);transform-origin:100% 100%;">R$ 34.923,80</div>
<div class="t" style="right:425.00px;top:394.08px;font-size:6.8px;-webkit-text-stroke:0px;transform:scaleX(0.8456);transform-origin:100% 100%;">40 %</div>
<div class="t" style="right:372.80px;top:394.08px;font-size:6.8px;-webkit-text-stroke:0px;transform:scaleX(0.85);transform-origin:100% 100%;">100 %</div>
<div class="t" style="right:321.70px;top:43.04px;font-size:6.8px;-webkit-text-stroke:0px;transform:scaleX(0.8162);transform-origin:100% 100%;">R$ 76.800,00</div>
<div class="t" style="right:268.10px;top:43.04px;font-size:6.8px;-webkit-text-stroke:0px;transform:scaleX(0.8456);transform-origin:100% 100%;">100,00 %</div>
<div class="t" style="right:215.78px;top:43.13px;font-size:6.7px;-webkit-text-stroke:0.1px currentColor;letter-spacing:0.156px;transform:scaleX(0.76) skewX(-8deg);transform-origin:100% 100%;color:#cc2f33;font-style:italic;">-12,73 %</div>
<div class="t" style="right:321.56px;top:54.76px;font-size:5.8px;-webkit-text-stroke:0.06px currentColor;letter-spacing:0.190px;transform:scaleX(0.74);transform-origin:100% 100%;">R$ 76.800,00</div>
<div class="t" style="right:267.87px;top:54.76px;font-size:5.8px;-webkit-text-stroke:0.06px currentColor;letter-spacing:0.317px;transform:scaleX(0.74);transform-origin:100% 100%;">100,00 %</div>
<div class="t" style="right:215.78px;top:54.10px;font-size:6.7px;-webkit-text-stroke:0.1px currentColor;letter-spacing:0.156px;transform:scaleX(0.76) skewX(-8deg);transform-origin:100% 100%;color:#cc2f33;font-style:italic;">-12,73 %</div>
<div class="t" style="right:321.56px;top:65.73px;font-size:5.8px;-webkit-text-stroke:0.06px currentColor;letter-spacing:0.190px;transform:scaleX(0.74);transform-origin:100% 100%;">R$ 76.800,00</div>
<div class="t" style="right:267.87px;top:65.73px;font-size:5.8px;-webkit-text-stroke:0.06px currentColor;letter-spacing:0.317px;transform:scaleX(0.74);transform-origin:100% 100%;">100,00 %</div>
<div class="t" style="right:215.78px;top:65.07px;font-size:6.7px;-webkit-text-stroke:0.1px currentColor;letter-spacing:0.156px;transform:scaleX(0.76) skewX(-8deg);transform-origin:100% 100%;color:#cc2f33;font-style:italic;">-12,73 %</div>
<div class="t" style="right:321.56px;top:76.70px;font-size:5.8px;-webkit-text-stroke:0.06px currentColor;letter-spacing:0.190px;transform:scaleX(0.74) skewX(-8deg);transform-origin:100% 100%;font-style:italic;">R$ 56.000,00</div>
<div class="t" style="right:267.86px;top:76.70px;font-size:5.8px;-webkit-text-stroke:0.06px currentColor;letter-spacing:0.321px;transform:scaleX(0.74) skewX(-8deg);transform-origin:100% 100%;font-style:italic;">72,92 %</div>
<div class="t" style="right:215.77px;top:76.04px;font-size:6.7px;-webkit-text-stroke:0.1px currentColor;letter-spacing:0.170px;transform:scaleX(0.76) skewX(-8deg);transform-origin:100% 100%;color:#2f7ec6;font-style:italic;">5,66 %</div>
<div class="t" style="right:267.86px;top:87.67px;font-size:5.8px;-webkit-text-stroke:0.06px currentColor;letter-spacing:0.326px;transform:scaleX(0.74) skewX(-8deg);transform-origin:100% 100%;font-style:italic;">0,00 %</div>
<div class="t" style="right:321.55px;top:98.64px;font-size:5.8px;-webkit-text-stroke:0.06px currentColor;letter-spacing:0.201px;transform:scaleX(0.74) skewX(-8deg);transform-origin:100% 100%;font-style:italic;">R$ 800,00</div>
<div class="t" style="right:267.86px;top:98.64px;font-size:5.8px;-webkit-text-stroke:0.06px currentColor;letter-spacing:0.326px;transform:scaleX(0.74) skewX(-8deg);transform-origin:100% 100%;font-style:italic;">1,04 %</div>
<div class="t" style="right:215.78px;top:97.98px;font-size:6.7px;-webkit-text-stroke:0.1px currentColor;letter-spacing:0.156px;transform:scaleX(0.76) skewX(-8deg);transform-origin:100% 100%;color:#cc2f33;font-style:italic;">-20,00 %</div>
<div class="t" style="right:321.56px;top:109.61px;font-size:5.8px;-webkit-text-stroke:0.06px currentColor;letter-spacing:0.190px;transform:scaleX(0.74) skewX(-8deg);transform-origin:100% 100%;font-style:italic;">R$ 20.000,00</div>
<div class="t" style="right:267.86px;top:109.61px;font-size:5.8px;-webkit-text-stroke:0.06px currentColor;letter-spacing:0.321px;transform:scaleX(0.74) skewX(-8deg);transform-origin:100% 100%;font-style:italic;">26,04 %</div>
<div class="t" style="right:215.78px;top:108.95px;font-size:6.7px;-webkit-text-stroke:0.1px currentColor;letter-spacing:0.156px;transform:scaleX(0.76) skewX(-8deg);transform-origin:100% 100%;color:#cc2f33;font-style:italic;">-16,67 %</div>
<div class="t" style="right:321.70px;top:119.83px;font-size:6.8px;-webkit-text-stroke:0px;transform:scaleX(0.8162);transform-origin:100% 100%;">- R$ 19.600,00</div>
<div class="t" style="right:268.10px;top:119.83px;font-size:6.8px;-webkit-text-stroke:0px;transform:scaleX(0.8456);transform-origin:100% 100%;">25,52&nbsp;&nbsp;%</div>
<div class="t" style="right:215.78px;top:119.92px;font-size:6.7px;-webkit-text-stroke:0.1px currentColor;letter-spacing:0.156px;transform:scaleX(0.76) skewX(-8deg);transform-origin:100% 100%;color:#cc2f33;font-style:italic;">-16,24 %</div>
<div class="t" style="right:321.57px;top:131.55px;font-size:5.8px;-webkit-text-stroke:0.06px currentColor;letter-spacing:0.177px;transform:scaleX(0.74);transform-origin:100% 100%;">- R$ 19.600,00</div>
<div class="t" style="right:267.88px;top:131.55px;font-size:5.8px;-webkit-text-stroke:0.06px currentColor;letter-spacing:0.296px;transform:scaleX(0.74);transform-origin:100% 100%;">25,52&nbsp;&nbsp;%</div>
<div class="t" style="right:215.78px;top:130.89px;font-size:6.7px;-webkit-text-stroke:0.1px currentColor;letter-spacing:0.156px;transform:scaleX(0.76) skewX(-8deg);transform-origin:100% 100%;color:#cc2f33;font-style:italic;">-16,24 %</div>
<div class="t" style="right:321.57px;top:142.52px;font-size:5.8px;-webkit-text-stroke:0.06px currentColor;letter-spacing:0.177px;transform:scaleX(0.74);transform-origin:100% 100%;">- R$ 19.600,00</div>
<div class="t" style="right:267.88px;top:142.52px;font-size:5.8px;-webkit-text-stroke:0.06px currentColor;letter-spacing:0.296px;transform:scaleX(0.74);transform-origin:100% 100%;">25,52&nbsp;&nbsp;%</div>
<div class="t" style="right:215.78px;top:141.86px;font-size:6.7px;-webkit-text-stroke:0.1px currentColor;letter-spacing:0.156px;transform:scaleX(0.76) skewX(-8deg);transform-origin:100% 100%;color:#cc2f33;font-style:italic;">-16,24 %</div>
<div class="t" style="right:321.57px;top:153.49px;font-size:5.8px;-webkit-text-stroke:0.06px currentColor;letter-spacing:0.177px;transform:scaleX(0.74) skewX(-8deg);transform-origin:100% 100%;font-style:italic;">- R$ 10.000,00</div>
<div class="t" style="right:267.88px;top:153.49px;font-size:5.8px;-webkit-text-stroke:0.06px currentColor;letter-spacing:0.296px;transform:scaleX(0.74) skewX(-8deg);transform-origin:100% 100%;font-style:italic;">13,02&nbsp;&nbsp;%</div>
<div class="t" style="right:215.77px;top:152.83px;font-size:6.7px;-webkit-text-stroke:0.1px currentColor;letter-spacing:0.167px;transform:scaleX(0.76) skewX(-8deg);transform-origin:100% 100%;color:#2f7ec6;font-style:italic;">17,65 %</div>
<div class="t" style="right:321.57px;top:164.46px;font-size:5.8px;-webkit-text-stroke:0.06px currentColor;letter-spacing:0.176px;transform:scaleX(0.74) skewX(-8deg);transform-origin:100% 100%;font-style:italic;">- R$ 7.600,00</div>
<div class="t" style="right:267.88px;top:164.46px;font-size:5.8px;-webkit-text-stroke:0.06px currentColor;letter-spacing:0.296px;transform:scaleX(0.74) skewX(-8deg);transform-origin:100% 100%;font-style:italic;">9,90&nbsp;&nbsp;%</div>
<div class="t" style="right:215.78px;top:163.80px;font-size:6.7px;-webkit-text-stroke:0.1px currentColor;letter-spacing:0.157px;transform:scaleX(0.76) skewX(-8deg);transform-origin:100% 100%;color:#cc2f33;font-style:italic;">-3,80 %</div>
<div class="t" style="right:321.57px;top:175.43px;font-size:5.8px;-webkit-text-stroke:0.06px currentColor;letter-spacing:0.176px;transform:scaleX(0.74) skewX(-8deg);transform-origin:100% 100%;font-style:italic;">- R$ 2.000,00</div>
<div class="t" style="right:267.88px;top:175.43px;font-size:5.8px;-webkit-text-stroke:0.06px currentColor;letter-spacing:0.296px;transform:scaleX(0.74) skewX(-8deg);transform-origin:100% 100%;font-style:italic;">2,60&nbsp;&nbsp;%</div>
<div class="t" style="right:215.77px;top:174.77px;font-size:6.7px;-webkit-text-stroke:0.1px currentColor;letter-spacing:0.170px;transform:scaleX(0.76) skewX(-8deg);transform-origin:100% 100%;color:#cc2f33;font-style:italic;">0,00 %</div>
<div class="t" style="right:267.86px;top:186.40px;font-size:5.8px;-webkit-text-stroke:0.06px currentColor;letter-spacing:0.326px;transform:scaleX(0.74) skewX(-8deg);transform-origin:100% 100%;font-style:italic;">0,00 %</div>
<div class="t" style="right:321.70px;top:196.62px;font-size:6.8px;-webkit-text-stroke:0px;transform:scaleX(0.8162);transform-origin:100% 100%;">R$ 57.200,00</div>
<div class="t" style="right:268.10px;top:196.62px;font-size:6.8px;-webkit-text-stroke:0px;transform:scaleX(0.8456);transform-origin:100% 100%;">74 %</div>
<div class="t" style="right:215.90px;top:196.62px;font-size:6.8px;-webkit-text-stroke:0px;transform:scaleX(0.85);transform-origin:100% 100%;">-11 %</div>
<div class="t" style="right:321.70px;top:207.59px;font-size:6.8px;-webkit-text-stroke:0px;transform:scaleX(0.8162);transform-origin:100% 100%;">- R$ 8.140,00</div>
<div class="t" style="right:268.10px;top:207.59px;font-size:6.8px;-webkit-text-stroke:0px;transform:scaleX(0.8456);transform-origin:100% 100%;">10,60&nbsp;&nbsp;%</div>
<div class="t" style="right:215.78px;top:207.68px;font-size:6.7px;-webkit-text-stroke:0.1px currentColor;letter-spacing:0.164px;transform:scaleX(0.76) skewX(-8deg);transform-origin:100% 100%;color:#2f7ec6;font-style:italic;">11,51 %</div>
<div class="t" style="right:321.57px;top:219.31px;font-size:5.8px;-webkit-text-stroke:0.06px currentColor;letter-spacing:0.176px;transform:scaleX(0.74);transform-origin:100% 100%;">- R$ 8.140,00</div>
<div class="t" style="right:267.88px;top:219.31px;font-size:5.8px;-webkit-text-stroke:0.06px currentColor;letter-spacing:0.296px;transform:scaleX(0.74);transform-origin:100% 100%;">10,60&nbsp;&nbsp;%</div>
<div class="t" style="right:215.78px;top:218.65px;font-size:6.7px;-webkit-text-stroke:0.1px currentColor;letter-spacing:0.164px;transform:scaleX(0.76) skewX(-8deg);transform-origin:100% 100%;color:#2f7ec6;font-style:italic;">11,51 %</div>
<div class="t" style="right:321.57px;top:230.28px;font-size:5.8px;-webkit-text-stroke:0.06px currentColor;letter-spacing:0.176px;transform:scaleX(0.74);transform-origin:100% 100%;">- R$ 8.140,00</div>
<div class="t" style="right:267.88px;top:230.28px;font-size:5.8px;-webkit-text-stroke:0.06px currentColor;letter-spacing:0.296px;transform:scaleX(0.74);transform-origin:100% 100%;">10,60&nbsp;&nbsp;%</div>
<div class="t" style="right:215.78px;top:229.62px;font-size:6.7px;-webkit-text-stroke:0.1px currentColor;letter-spacing:0.164px;transform:scaleX(0.76) skewX(-8deg);transform-origin:100% 100%;color:#2f7ec6;font-style:italic;">11,51 %</div>
<div class="t" style="right:321.57px;top:241.25px;font-size:5.8px;-webkit-text-stroke:0.06px currentColor;letter-spacing:0.176px;transform:scaleX(0.74) skewX(-8deg);transform-origin:100% 100%;font-style:italic;">- R$ 6.000,00</div>
<div class="t" style="right:267.88px;top:241.25px;font-size:5.8px;-webkit-text-stroke:0.06px currentColor;letter-spacing:0.296px;transform:scaleX(0.74) skewX(-8deg);transform-origin:100% 100%;font-style:italic;">7,81&nbsp;&nbsp;%</div>
<div class="t" style="right:215.77px;top:240.59px;font-size:6.7px;-webkit-text-stroke:0.1px currentColor;letter-spacing:0.170px;transform:scaleX(0.76) skewX(-8deg);transform-origin:100% 100%;color:#2f7ec6;font-style:italic;">9,09 %</div>
<div class="t" style="right:321.57px;top:252.22px;font-size:5.8px;-webkit-text-stroke:0.06px currentColor;letter-spacing:0.176px;transform:scaleX(0.74) skewX(-8deg);transform-origin:100% 100%;font-style:italic;">- R$ 2.140,00</div>
<div class="t" style="right:267.88px;top:252.22px;font-size:5.8px;-webkit-text-stroke:0.06px currentColor;letter-spacing:0.296px;transform:scaleX(0.74) skewX(-8deg);transform-origin:100% 100%;font-style:italic;">2,79&nbsp;&nbsp;%</div>
<div class="t" style="right:215.77px;top:251.56px;font-size:6.7px;-webkit-text-stroke:0.1px currentColor;letter-spacing:0.167px;transform:scaleX(0.76) skewX(-8deg);transform-origin:100% 100%;color:#2f7ec6;font-style:italic;">18,89 %</div>
<div class="t" style="right:321.70px;top:262.44px;font-size:6.8px;-webkit-text-stroke:0px;transform:scaleX(0.8162);transform-origin:100% 100%;">R$ 49.060,00</div>
<div class="t" style="right:268.10px;top:262.44px;font-size:6.8px;-webkit-text-stroke:0px;transform:scaleX(0.8456);transform-origin:100% 100%;">64 %</div>
<div class="t" style="right:215.90px;top:262.44px;font-size:6.8px;-webkit-text-stroke:0px;transform:scaleX(0.85);transform-origin:100% 100%;">-14 %</div>
<div class="t" style="right:321.70px;top:273.41px;font-size:6.8px;-webkit-text-stroke:0px;transform:scaleX(0.8162);transform-origin:100% 100%;">- R$ 12.610,00</div>
<div class="t" style="right:268.10px;top:273.41px;font-size:6.8px;-webkit-text-stroke:0px;transform:scaleX(0.8456);transform-origin:100% 100%;">16,42&nbsp;&nbsp;%</div>
<div class="t" style="right:215.77px;top:273.50px;font-size:6.7px;-webkit-text-stroke:0.1px currentColor;letter-spacing:0.170px;transform:scaleX(0.76) skewX(-8deg);transform-origin:100% 100%;color:#2f7ec6;font-style:italic;">1,08 %</div>
<div class="t" style="right:321.57px;top:285.13px;font-size:5.8px;-webkit-text-stroke:0.06px currentColor;letter-spacing:0.177px;transform:scaleX(0.74);transform-origin:100% 100%;">- R$ 12.610,00</div>
<div class="t" style="right:267.88px;top:285.13px;font-size:5.8px;-webkit-text-stroke:0.06px currentColor;letter-spacing:0.296px;transform:scaleX(0.74);transform-origin:100% 100%;">16,42&nbsp;&nbsp;%</div>
<div class="t" style="right:215.77px;top:284.47px;font-size:6.7px;-webkit-text-stroke:0.1px currentColor;letter-spacing:0.170px;transform:scaleX(0.76) skewX(-8deg);transform-origin:100% 100%;color:#2f7ec6;font-style:italic;">1,08 %</div>
<div class="t" style="right:321.57px;top:296.10px;font-size:5.8px;-webkit-text-stroke:0.06px currentColor;letter-spacing:0.177px;transform:scaleX(0.74);transform-origin:100% 100%;">- R$ 12.610,00</div>
<div class="t" style="right:267.88px;top:296.10px;font-size:5.8px;-webkit-text-stroke:0.06px currentColor;letter-spacing:0.296px;transform:scaleX(0.74);transform-origin:100% 100%;">16,42&nbsp;&nbsp;%</div>
<div class="t" style="right:215.77px;top:295.44px;font-size:6.7px;-webkit-text-stroke:0.1px currentColor;letter-spacing:0.170px;transform:scaleX(0.76) skewX(-8deg);transform-origin:100% 100%;color:#2f7ec6;font-style:italic;">1,08 %</div>
<div class="t" style="right:321.57px;top:307.07px;font-size:5.8px;-webkit-text-stroke:0.06px currentColor;letter-spacing:0.176px;transform:scaleX(0.74) skewX(-8deg);transform-origin:100% 100%;font-style:italic;">- R$ 2.500,00</div>
<div class="t" style="right:267.88px;top:307.07px;font-size:5.8px;-webkit-text-stroke:0.06px currentColor;letter-spacing:0.296px;transform:scaleX(0.74) skewX(-8deg);transform-origin:100% 100%;font-style:italic;">3,26&nbsp;&nbsp;%</div>
<div class="t" style="right:215.77px;top:306.41px;font-size:6.7px;-webkit-text-stroke:0.1px currentColor;letter-spacing:0.170px;transform:scaleX(0.76) skewX(-8deg);transform-origin:100% 100%;color:#cc2f33;font-style:italic;">0,00 %</div>
<div class="t" style="right:321.57px;top:318.04px;font-size:5.8px;-webkit-text-stroke:0.06px currentColor;letter-spacing:0.176px;transform:scaleX(0.74) skewX(-8deg);transform-origin:100% 100%;font-style:italic;">- R$ 2.800,00</div>
<div class="t" style="right:267.88px;top:318.04px;font-size:5.8px;-webkit-text-stroke:0.06px currentColor;letter-spacing:0.296px;transform:scaleX(0.74) skewX(-8deg);transform-origin:100% 100%;font-style:italic;">3,65&nbsp;&nbsp;%</div>
<div class="t" style="right:215.77px;top:317.38px;font-size:6.7px;-webkit-text-stroke:0.1px currentColor;letter-spacing:0.170px;transform:scaleX(0.76) skewX(-8deg);transform-origin:100% 100%;color:#cc2f33;font-style:italic;">0,00 %</div>
<div class="t" style="right:321.57px;top:329.01px;font-size:5.8px;-webkit-text-stroke:0.06px currentColor;letter-spacing:0.182px;transform:scaleX(0.74) skewX(-8deg);transform-origin:100% 100%;font-style:italic;">- R$ 175,00</div>
<div class="t" style="right:267.88px;top:329.01px;font-size:5.8px;-webkit-text-stroke:0.06px currentColor;letter-spacing:0.296px;transform:scaleX(0.74) skewX(-8deg);transform-origin:100% 100%;font-style:italic;">0,23&nbsp;&nbsp;%</div>
<div class="t" style="right:215.77px;top:328.35px;font-size:6.7px;-webkit-text-stroke:0.1px currentColor;letter-spacing:0.170px;transform:scaleX(0.76) skewX(-8deg);transform-origin:100% 100%;color:#cc2f33;font-style:italic;">0,00 %</div>
<div class="t" style="right:321.57px;top:339.98px;font-size:5.8px;-webkit-text-stroke:0.06px currentColor;letter-spacing:0.176px;transform:scaleX(0.74) skewX(-8deg);transform-origin:100% 100%;font-style:italic;">- R$ 7.135,00</div>
<div class="t" style="right:267.88px;top:339.98px;font-size:5.8px;-webkit-text-stroke:0.06px currentColor;letter-spacing:0.296px;transform:scaleX(0.74) skewX(-8deg);transform-origin:100% 100%;font-style:italic;">9,29&nbsp;&nbsp;%</div>
<div class="t" style="right:215.77px;top:339.32px;font-size:6.7px;-webkit-text-stroke:0.1px currentColor;letter-spacing:0.170px;transform:scaleX(0.76) skewX(-8deg);transform-origin:100% 100%;color:#2f7ec6;font-style:italic;">1,93 %</div>
<div class="t" style="right:321.70px;top:350.20px;font-size:6.8px;-webkit-text-stroke:0px;transform:scaleX(0.8162);transform-origin:100% 100%;">R$ 36.450,00</div>
<div class="t" style="right:268.10px;top:350.20px;font-size:6.8px;-webkit-text-stroke:0px;transform:scaleX(0.8456);transform-origin:100% 100%;">47 %</div>
<div class="t" style="right:215.90px;top:350.20px;font-size:6.8px;-webkit-text-stroke:0px;transform:scaleX(0.85);transform-origin:100% 100%;">-19 %</div>
<div class="t" style="right:321.70px;top:361.17px;font-size:6.8px;-webkit-text-stroke:0px;transform:scaleX(0.8162);transform-origin:100% 100%;">- R$ 8.119,20</div>
<div class="t" style="right:268.10px;top:361.17px;font-size:6.8px;-webkit-text-stroke:0px;transform:scaleX(0.8456);transform-origin:100% 100%;">10,57&nbsp;&nbsp;%</div>
<div class="t" style="right:215.78px;top:361.26px;font-size:6.7px;-webkit-text-stroke:0.1px currentColor;letter-spacing:0.156px;transform:scaleX(0.76) skewX(-8deg);transform-origin:100% 100%;color:#cc2f33;font-style:italic;">-18,00 %</div>
<div class="t" style="right:321.57px;top:372.89px;font-size:5.8px;-webkit-text-stroke:0.06px currentColor;letter-spacing:0.174px;transform:scaleX(0.74);transform-origin:100% 100%;">- R$ 8.119,20</div>
<div class="t" style="right:267.88px;top:372.89px;font-size:5.8px;-webkit-text-stroke:0.06px currentColor;letter-spacing:0.296px;transform:scaleX(0.74);transform-origin:100% 100%;">10,57&nbsp;&nbsp;%</div>
<div class="t" style="right:215.78px;top:372.23px;font-size:6.7px;-webkit-text-stroke:0.1px currentColor;letter-spacing:0.156px;transform:scaleX(0.76) skewX(-8deg);transform-origin:100% 100%;color:#cc2f33;font-style:italic;">-18,00 %</div>
<div class="t" style="right:321.57px;top:383.86px;font-size:5.8px;-webkit-text-stroke:0.06px currentColor;letter-spacing:0.174px;transform:scaleX(0.74);transform-origin:100% 100%;">- R$ 8.119,20</div>
<div class="t" style="right:267.88px;top:383.86px;font-size:5.8px;-webkit-text-stroke:0.06px currentColor;letter-spacing:0.296px;transform:scaleX(0.74);transform-origin:100% 100%;">10,57&nbsp;&nbsp;%</div>
<div class="t" style="right:215.78px;top:383.20px;font-size:6.7px;-webkit-text-stroke:0.1px currentColor;letter-spacing:0.156px;transform:scaleX(0.76) skewX(-8deg);transform-origin:100% 100%;color:#cc2f33;font-style:italic;">-18,00 %</div>
<div class="t" style="right:321.70px;top:394.08px;font-size:6.8px;-webkit-text-stroke:0px;transform:scaleX(0.8162);transform-origin:100% 100%;">R$ 28.330,80</div>
<div class="t" style="right:268.10px;top:394.08px;font-size:6.8px;-webkit-text-stroke:0px;transform:scaleX(0.8456);transform-origin:100% 100%;">37 %</div>
<div class="t" style="right:215.90px;top:394.08px;font-size:6.8px;-webkit-text-stroke:0px;transform:scaleX(0.85);transform-origin:100% 100%;">-19 %</div>
<div class="t" style="right:165.70px;top:43.04px;font-size:6.8px;-webkit-text-stroke:0px;transform:scaleX(0.8162);transform-origin:100% 100%;">R$ 90.200,00</div>
<div class="t" style="right:111.30px;top:43.04px;font-size:6.8px;-webkit-text-stroke:0px;transform:scaleX(0.8456);transform-origin:100% 100%;">100,00 %</div>
<div class="t" style="right:58.97px;top:43.13px;font-size:6.7px;-webkit-text-stroke:0.1px currentColor;letter-spacing:0.167px;transform:scaleX(0.76) skewX(-8deg);transform-origin:100% 100%;color:#2f7ec6;font-style:italic;">17,45 %</div>
<div class="t" style="right:165.56px;top:54.76px;font-size:5.8px;-webkit-text-stroke:0.06px currentColor;letter-spacing:0.190px;transform:scaleX(0.74);transform-origin:100% 100%;">R$ 90.200,00</div>
<div class="t" style="right:111.07px;top:54.76px;font-size:5.8px;-webkit-text-stroke:0.06px currentColor;letter-spacing:0.317px;transform:scaleX(0.74);transform-origin:100% 100%;">100,00 %</div>
<div class="t" style="right:58.97px;top:54.10px;font-size:6.7px;-webkit-text-stroke:0.1px currentColor;letter-spacing:0.167px;transform:scaleX(0.76) skewX(-8deg);transform-origin:100% 100%;color:#2f7ec6;font-style:italic;">17,45 %</div>
<div class="t" style="right:165.56px;top:65.73px;font-size:5.8px;-webkit-text-stroke:0.06px currentColor;letter-spacing:0.190px;transform:scaleX(0.74);transform-origin:100% 100%;">R$ 90.200,00</div>
<div class="t" style="right:111.07px;top:65.73px;font-size:5.8px;-webkit-text-stroke:0.06px currentColor;letter-spacing:0.317px;transform:scaleX(0.74);transform-origin:100% 100%;">100,00 %</div>
<div class="t" style="right:58.97px;top:65.07px;font-size:6.7px;-webkit-text-stroke:0.1px currentColor;letter-spacing:0.167px;transform:scaleX(0.76) skewX(-8deg);transform-origin:100% 100%;color:#2f7ec6;font-style:italic;">17,45 %</div>
<div class="t" style="right:165.56px;top:76.70px;font-size:5.8px;-webkit-text-stroke:0.06px currentColor;letter-spacing:0.190px;transform:scaleX(0.74) skewX(-8deg);transform-origin:100% 100%;font-style:italic;">R$ 63.000,00</div>
<div class="t" style="right:111.06px;top:76.70px;font-size:5.8px;-webkit-text-stroke:0.06px currentColor;letter-spacing:0.321px;transform:scaleX(0.74) skewX(-8deg);transform-origin:100% 100%;font-style:italic;">69,84 %</div>
<div class="t" style="right:58.97px;top:76.04px;font-size:6.7px;-webkit-text-stroke:0.1px currentColor;letter-spacing:0.167px;transform:scaleX(0.76) skewX(-8deg);transform-origin:100% 100%;color:#2f7ec6;font-style:italic;">12,50 %</div>
<div class="t" style="right:111.06px;top:87.67px;font-size:5.8px;-webkit-text-stroke:0.06px currentColor;letter-spacing:0.326px;transform:scaleX(0.74) skewX(-8deg);transform-origin:100% 100%;font-style:italic;">0,00 %</div>
<div class="t" style="right:165.56px;top:98.64px;font-size:5.8px;-webkit-text-stroke:0.06px currentColor;letter-spacing:0.190px;transform:scaleX(0.74) skewX(-8deg);transform-origin:100% 100%;font-style:italic;">R$ 2.200,00</div>
<div class="t" style="right:111.06px;top:98.64px;font-size:5.8px;-webkit-text-stroke:0.06px currentColor;letter-spacing:0.326px;transform:scaleX(0.74) skewX(-8deg);transform-origin:100% 100%;font-style:italic;">2,44 %</div>
<div class="t" style="right:58.97px;top:97.98px;font-size:6.7px;-webkit-text-stroke:0.1px currentColor;letter-spacing:0.165px;transform:scaleX(0.76) skewX(-8deg);transform-origin:100% 100%;color:#2f7ec6;font-style:italic;">175,00 %</div>
<div class="t" style="right:165.56px;top:109.61px;font-size:5.8px;-webkit-text-stroke:0.06px currentColor;letter-spacing:0.190px;transform:scaleX(0.74) skewX(-8deg);transform-origin:100% 100%;font-style:italic;">R$ 25.000,00</div>
<div class="t" style="right:111.06px;top:109.61px;font-size:5.8px;-webkit-text-stroke:0.06px currentColor;letter-spacing:0.321px;transform:scaleX(0.74) skewX(-8deg);transform-origin:100% 100%;font-style:italic;">27,72 %</div>
<div class="t" style="right:58.97px;top:108.95px;font-size:6.7px;-webkit-text-stroke:0.1px currentColor;letter-spacing:0.167px;transform:scaleX(0.76) skewX(-8deg);transform-origin:100% 100%;color:#2f7ec6;font-style:italic;">25,00 %</div>
<div class="t" style="right:165.70px;top:119.83px;font-size:6.8px;-webkit-text-stroke:0px;transform:scaleX(0.8162);transform-origin:100% 100%;">- R$ 29.500,00</div>
<div class="t" style="right:111.30px;top:119.83px;font-size:6.8px;-webkit-text-stroke:0px;transform:scaleX(0.8456);transform-origin:100% 100%;">32,71&nbsp;&nbsp;%</div>
<div class="t" style="right:58.97px;top:119.92px;font-size:6.7px;-webkit-text-stroke:0.1px currentColor;letter-spacing:0.167px;transform:scaleX(0.76) skewX(-8deg);transform-origin:100% 100%;color:#2f7ec6;font-style:italic;">50,51 %</div>
<div class="t" style="right:165.57px;top:131.55px;font-size:5.8px;-webkit-text-stroke:0.06px currentColor;letter-spacing:0.177px;transform:scaleX(0.74);transform-origin:100% 100%;">- R$ 29.500,00</div>
<div class="t" style="right:111.08px;top:131.55px;font-size:5.8px;-webkit-text-stroke:0.06px currentColor;letter-spacing:0.296px;transform:scaleX(0.74);transform-origin:100% 100%;">32,71&nbsp;&nbsp;%</div>
<div class="t" style="right:58.97px;top:130.89px;font-size:6.7px;-webkit-text-stroke:0.1px currentColor;letter-spacing:0.167px;transform:scaleX(0.76) skewX(-8deg);transform-origin:100% 100%;color:#2f7ec6;font-style:italic;">50,51 %</div>
<div class="t" style="right:165.57px;top:142.52px;font-size:5.8px;-webkit-text-stroke:0.06px currentColor;letter-spacing:0.177px;transform:scaleX(0.74);transform-origin:100% 100%;">- R$ 29.500,00</div>
<div class="t" style="right:111.08px;top:142.52px;font-size:5.8px;-webkit-text-stroke:0.06px currentColor;letter-spacing:0.296px;transform:scaleX(0.74);transform-origin:100% 100%;">32,71&nbsp;&nbsp;%</div>
<div class="t" style="right:58.97px;top:141.86px;font-size:6.7px;-webkit-text-stroke:0.1px currentColor;letter-spacing:0.167px;transform:scaleX(0.76) skewX(-8deg);transform-origin:100% 100%;color:#2f7ec6;font-style:italic;">50,51 %</div>
<div class="t" style="right:165.57px;top:153.49px;font-size:5.8px;-webkit-text-stroke:0.06px currentColor;letter-spacing:0.177px;transform:scaleX(0.74) skewX(-8deg);transform-origin:100% 100%;font-style:italic;">- R$ 15.000,00</div>
<div class="t" style="right:111.08px;top:153.49px;font-size:5.8px;-webkit-text-stroke:0.06px currentColor;letter-spacing:0.296px;transform:scaleX(0.74) skewX(-8deg);transform-origin:100% 100%;font-style:italic;">16,63&nbsp;&nbsp;%</div>
<div class="t" style="right:58.97px;top:152.83px;font-size:6.7px;-webkit-text-stroke:0.1px currentColor;letter-spacing:0.167px;transform:scaleX(0.76) skewX(-8deg);transform-origin:100% 100%;color:#2f7ec6;font-style:italic;">50,00 %</div>
<div class="t" style="right:165.57px;top:164.46px;font-size:5.8px;-webkit-text-stroke:0.06px currentColor;letter-spacing:0.176px;transform:scaleX(0.74) skewX(-8deg);transform-origin:100% 100%;font-style:italic;">- R$ 9.000,00</div>
<div class="t" style="right:111.08px;top:164.46px;font-size:5.8px;-webkit-text-stroke:0.06px currentColor;letter-spacing:0.296px;transform:scaleX(0.74) skewX(-8deg);transform-origin:100% 100%;font-style:italic;">9,98&nbsp;&nbsp;%</div>
<div class="t" style="right:58.97px;top:163.80px;font-size:6.7px;-webkit-text-stroke:0.1px currentColor;letter-spacing:0.167px;transform:scaleX(0.76) skewX(-8deg);transform-origin:100% 100%;color:#2f7ec6;font-style:italic;">18,42 %</div>
<div class="t" style="right:165.57px;top:175.43px;font-size:5.8px;-webkit-text-stroke:0.06px currentColor;letter-spacing:0.176px;transform:scaleX(0.74) skewX(-8deg);transform-origin:100% 100%;font-style:italic;">- R$ 3.000,00</div>
<div class="t" style="right:111.08px;top:175.43px;font-size:5.8px;-webkit-text-stroke:0.06px currentColor;letter-spacing:0.296px;transform:scaleX(0.74) skewX(-8deg);transform-origin:100% 100%;font-style:italic;">3,33&nbsp;&nbsp;%</div>
<div class="t" style="right:58.97px;top:174.77px;font-size:6.7px;-webkit-text-stroke:0.1px currentColor;letter-spacing:0.167px;transform:scaleX(0.76) skewX(-8deg);transform-origin:100% 100%;color:#2f7ec6;font-style:italic;">50,00 %</div>
<div class="t" style="right:165.57px;top:186.40px;font-size:5.8px;-webkit-text-stroke:0.06px currentColor;letter-spacing:0.176px;transform:scaleX(0.74) skewX(-8deg);transform-origin:100% 100%;font-style:italic;">- R$ 2.500,00</div>
<div class="t" style="right:111.08px;top:186.40px;font-size:5.8px;-webkit-text-stroke:0.06px currentColor;letter-spacing:0.296px;transform:scaleX(0.74) skewX(-8deg);transform-origin:100% 100%;font-style:italic;">2,77&nbsp;&nbsp;%</div>
<div class="t" style="right:165.70px;top:196.62px;font-size:6.8px;-webkit-text-stroke:0px;transform:scaleX(0.8162);transform-origin:100% 100%;">R$ 60.700,00</div>
<div class="t" style="right:111.30px;top:196.62px;font-size:6.8px;-webkit-text-stroke:0px;transform:scaleX(0.8456);transform-origin:100% 100%;">67 %</div>
<div class="t" style="right:59.10px;top:196.62px;font-size:6.8px;-webkit-text-stroke:0px;transform:scaleX(0.85);transform-origin:100% 100%;">6 %</div>
<div class="t" style="right:165.70px;top:207.59px;font-size:6.8px;-webkit-text-stroke:0px;transform:scaleX(0.8162);transform-origin:100% 100%;">- R$ 9.800,00</div>
<div class="t" style="right:111.30px;top:207.59px;font-size:6.8px;-webkit-text-stroke:0px;transform:scaleX(0.8456);transform-origin:100% 100%;">10,86&nbsp;&nbsp;%</div>
<div class="t" style="right:58.97px;top:207.68px;font-size:6.7px;-webkit-text-stroke:0.1px currentColor;letter-spacing:0.167px;transform:scaleX(0.76) skewX(-8deg);transform-origin:100% 100%;color:#2f7ec6;font-style:italic;">20,39 %</div>
<div class="t" style="right:165.57px;top:219.31px;font-size:5.8px;-webkit-text-stroke:0.06px currentColor;letter-spacing:0.176px;transform:scaleX(0.74);transform-origin:100% 100%;">- R$ 9.800,00</div>
<div class="t" style="right:111.08px;top:219.31px;font-size:5.8px;-webkit-text-stroke:0.06px currentColor;letter-spacing:0.296px;transform:scaleX(0.74);transform-origin:100% 100%;">10,86&nbsp;&nbsp;%</div>
<div class="t" style="right:58.97px;top:218.65px;font-size:6.7px;-webkit-text-stroke:0.1px currentColor;letter-spacing:0.167px;transform:scaleX(0.76) skewX(-8deg);transform-origin:100% 100%;color:#2f7ec6;font-style:italic;">20,39 %</div>
<div class="t" style="right:165.57px;top:230.28px;font-size:5.8px;-webkit-text-stroke:0.06px currentColor;letter-spacing:0.176px;transform:scaleX(0.74);transform-origin:100% 100%;">- R$ 9.800,00</div>
<div class="t" style="right:111.08px;top:230.28px;font-size:5.8px;-webkit-text-stroke:0.06px currentColor;letter-spacing:0.296px;transform:scaleX(0.74);transform-origin:100% 100%;">10,86&nbsp;&nbsp;%</div>
<div class="t" style="right:58.97px;top:229.62px;font-size:6.7px;-webkit-text-stroke:0.1px currentColor;letter-spacing:0.167px;transform:scaleX(0.76) skewX(-8deg);transform-origin:100% 100%;color:#2f7ec6;font-style:italic;">20,39 %</div>
<div class="t" style="right:165.57px;top:241.25px;font-size:5.8px;-webkit-text-stroke:0.06px currentColor;letter-spacing:0.176px;transform:scaleX(0.74) skewX(-8deg);transform-origin:100% 100%;font-style:italic;">- R$ 9.000,00</div>
<div class="t" style="right:111.08px;top:241.25px;font-size:5.8px;-webkit-text-stroke:0.06px currentColor;letter-spacing:0.296px;transform:scaleX(0.74) skewX(-8deg);transform-origin:100% 100%;font-style:italic;">9,98&nbsp;&nbsp;%</div>
<div class="t" style="right:58.97px;top:240.59px;font-size:6.7px;-webkit-text-stroke:0.1px currentColor;letter-spacing:0.167px;transform:scaleX(0.76) skewX(-8deg);transform-origin:100% 100%;color:#2f7ec6;font-style:italic;">50,00 %</div>
<div class="t" style="right:165.57px;top:252.22px;font-size:5.8px;-webkit-text-stroke:0.06px currentColor;letter-spacing:0.182px;transform:scaleX(0.74) skewX(-8deg);transform-origin:100% 100%;font-style:italic;">- R$ 800,00</div>
<div class="t" style="right:111.08px;top:252.22px;font-size:5.8px;-webkit-text-stroke:0.06px currentColor;letter-spacing:0.296px;transform:scaleX(0.74) skewX(-8deg);transform-origin:100% 100%;font-style:italic;">0,89&nbsp;&nbsp;%</div>
<div class="t" style="right:58.98px;top:251.56px;font-size:6.7px;-webkit-text-stroke:0.1px currentColor;letter-spacing:0.156px;transform:scaleX(0.76) skewX(-8deg);transform-origin:100% 100%;color:#cc2f33;font-style:italic;">-62,62 %</div>
<div class="t" style="right:165.70px;top:262.44px;font-size:6.8px;-webkit-text-stroke:0px;transform:scaleX(0.8162);transform-origin:100% 100%;">R$ 50.900,00</div>
<div class="t" style="right:111.30px;top:262.44px;font-size:6.8px;-webkit-text-stroke:0px;transform:scaleX(0.8456);transform-origin:100% 100%;">56 %</div>
<div class="t" style="right:59.10px;top:262.44px;font-size:6.8px;-webkit-text-stroke:0px;transform:scaleX(0.85);transform-origin:100% 100%;">4 %</div>
<div class="t" style="right:165.70px;top:273.41px;font-size:6.8px;-webkit-text-stroke:0px;transform:scaleX(0.8162);transform-origin:100% 100%;">- R$ 13.420,00</div>
<div class="t" style="right:111.30px;top:273.41px;font-size:6.8px;-webkit-text-stroke:0px;transform:scaleX(0.8456);transform-origin:100% 100%;">14,88&nbsp;&nbsp;%</div>
<div class="t" style="right:58.97px;top:273.50px;font-size:6.7px;-webkit-text-stroke:0.1px currentColor;letter-spacing:0.170px;transform:scaleX(0.76) skewX(-8deg);transform-origin:100% 100%;color:#2f7ec6;font-style:italic;">6,42 %</div>
<div class="t" style="right:165.57px;top:285.13px;font-size:5.8px;-webkit-text-stroke:0.06px currentColor;letter-spacing:0.177px;transform:scaleX(0.74);transform-origin:100% 100%;">- R$ 13.420,00</div>
<div class="t" style="right:111.08px;top:285.13px;font-size:5.8px;-webkit-text-stroke:0.06px currentColor;letter-spacing:0.296px;transform:scaleX(0.74);transform-origin:100% 100%;">14,88&nbsp;&nbsp;%</div>
<div class="t" style="right:58.97px;top:284.47px;font-size:6.7px;-webkit-text-stroke:0.1px currentColor;letter-spacing:0.170px;transform:scaleX(0.76) skewX(-8deg);transform-origin:100% 100%;color:#2f7ec6;font-style:italic;">6,42 %</div>
<div class="t" style="right:165.57px;top:296.10px;font-size:5.8px;-webkit-text-stroke:0.06px currentColor;letter-spacing:0.177px;transform:scaleX(0.74);transform-origin:100% 100%;">- R$ 13.420,00</div>
<div class="t" style="right:111.08px;top:296.10px;font-size:5.8px;-webkit-text-stroke:0.06px currentColor;letter-spacing:0.296px;transform:scaleX(0.74);transform-origin:100% 100%;">14,88&nbsp;&nbsp;%</div>
<div class="t" style="right:58.97px;top:295.44px;font-size:6.7px;-webkit-text-stroke:0.1px currentColor;letter-spacing:0.170px;transform:scaleX(0.76) skewX(-8deg);transform-origin:100% 100%;color:#2f7ec6;font-style:italic;">6,42 %</div>
<div class="t" style="right:165.57px;top:307.07px;font-size:5.8px;-webkit-text-stroke:0.06px currentColor;letter-spacing:0.176px;transform:scaleX(0.74) skewX(-8deg);transform-origin:100% 100%;font-style:italic;">- R$ 2.500,00</div>
<div class="t" style="right:111.08px;top:307.07px;font-size:5.8px;-webkit-text-stroke:0.06px currentColor;letter-spacing:0.296px;transform:scaleX(0.74) skewX(-8deg);transform-origin:100% 100%;font-style:italic;">2,77&nbsp;&nbsp;%</div>
<div class="t" style="right:58.97px;top:306.41px;font-size:6.7px;-webkit-text-stroke:0.1px currentColor;letter-spacing:0.170px;transform:scaleX(0.76) skewX(-8deg);transform-origin:100% 100%;color:#cc2f33;font-style:italic;">0,00 %</div>
<div class="t" style="right:165.57px;top:318.04px;font-size:5.8px;-webkit-text-stroke:0.06px currentColor;letter-spacing:0.176px;transform:scaleX(0.74) skewX(-8deg);transform-origin:100% 100%;font-style:italic;">- R$ 2.800,00</div>
<div class="t" style="right:111.08px;top:318.04px;font-size:5.8px;-webkit-text-stroke:0.06px currentColor;letter-spacing:0.296px;transform:scaleX(0.74) skewX(-8deg);transform-origin:100% 100%;font-style:italic;">3,10&nbsp;&nbsp;%</div>
<div class="t" style="right:58.97px;top:317.38px;font-size:6.7px;-webkit-text-stroke:0.1px currentColor;letter-spacing:0.170px;transform:scaleX(0.76) skewX(-8deg);transform-origin:100% 100%;color:#cc2f33;font-style:italic;">0,00 %</div>
<div class="t" style="right:165.57px;top:329.01px;font-size:5.8px;-webkit-text-stroke:0.06px currentColor;letter-spacing:0.182px;transform:scaleX(0.74) skewX(-8deg);transform-origin:100% 100%;font-style:italic;">- R$ 220,00</div>
<div class="t" style="right:111.08px;top:329.01px;font-size:5.8px;-webkit-text-stroke:0.06px currentColor;letter-spacing:0.296px;transform:scaleX(0.74) skewX(-8deg);transform-origin:100% 100%;font-style:italic;">0,24&nbsp;&nbsp;%</div>
<div class="t" style="right:58.97px;top:328.35px;font-size:6.7px;-webkit-text-stroke:0.1px currentColor;letter-spacing:0.167px;transform:scaleX(0.76) skewX(-8deg);transform-origin:100% 100%;color:#2f7ec6;font-style:italic;">25,71 %</div>
<div class="t" style="right:165.57px;top:339.98px;font-size:5.8px;-webkit-text-stroke:0.06px currentColor;letter-spacing:0.176px;transform:scaleX(0.74) skewX(-8deg);transform-origin:100% 100%;font-style:italic;">- R$ 7.900,00</div>
<div class="t" style="right:111.08px;top:339.98px;font-size:5.8px;-webkit-text-stroke:0.06px currentColor;letter-spacing:0.296px;transform:scaleX(0.74) skewX(-8deg);transform-origin:100% 100%;font-style:italic;">8,76&nbsp;&nbsp;%</div>
<div class="t" style="right:58.97px;top:339.32px;font-size:6.7px;-webkit-text-stroke:0.1px currentColor;letter-spacing:0.167px;transform:scaleX(0.76) skewX(-8deg);transform-origin:100% 100%;color:#2f7ec6;font-style:italic;">10,72 %</div>
<div class="t" style="right:165.70px;top:350.20px;font-size:6.8px;-webkit-text-stroke:0px;transform:scaleX(0.8162);transform-origin:100% 100%;">R$ 37.480,00</div>
<div class="t" style="right:111.30px;top:350.20px;font-size:6.8px;-webkit-text-stroke:0px;transform:scaleX(0.8456);transform-origin:100% 100%;">42 %</div>
<div class="t" style="right:59.10px;top:350.20px;font-size:6.8px;-webkit-text-stroke:0px;transform:scaleX(0.85);transform-origin:100% 100%;">3 %</div>
<div class="t" style="right:165.70px;top:361.17px;font-size:6.8px;-webkit-text-stroke:0px;transform:scaleX(0.8162);transform-origin:100% 100%;">- R$ 9.901,68</div>
<div class="t" style="right:111.30px;top:361.17px;font-size:6.8px;-webkit-text-stroke:0px;transform:scaleX(0.8456);transform-origin:100% 100%;">10,98&nbsp;&nbsp;%</div>
<div class="t" style="right:58.97px;top:361.26px;font-size:6.7px;-webkit-text-stroke:0.1px currentColor;letter-spacing:0.167px;transform:scaleX(0.76) skewX(-8deg);transform-origin:100% 100%;color:#2f7ec6;font-style:italic;">21,95 %</div>
<div class="t" style="right:165.57px;top:372.89px;font-size:5.8px;-webkit-text-stroke:0.06px currentColor;letter-spacing:0.176px;transform:scaleX(0.74);transform-origin:100% 100%;">- R$ 9.901,68</div>
<div class="t" style="right:111.08px;top:372.89px;font-size:5.8px;-webkit-text-stroke:0.06px currentColor;letter-spacing:0.296px;transform:scaleX(0.74);transform-origin:100% 100%;">10,98&nbsp;&nbsp;%</div>
<div class="t" style="right:58.97px;top:372.23px;font-size:6.7px;-webkit-text-stroke:0.1px currentColor;letter-spacing:0.167px;transform:scaleX(0.76) skewX(-8deg);transform-origin:100% 100%;color:#2f7ec6;font-style:italic;">21,95 %</div>
<div class="t" style="right:165.57px;top:383.86px;font-size:5.8px;-webkit-text-stroke:0.06px currentColor;letter-spacing:0.176px;transform:scaleX(0.74);transform-origin:100% 100%;">- R$ 9.901,68</div>
<div class="t" style="right:111.08px;top:383.86px;font-size:5.8px;-webkit-text-stroke:0.06px currentColor;letter-spacing:0.296px;transform:scaleX(0.74);transform-origin:100% 100%;">10,98&nbsp;&nbsp;%</div>
<div class="t" style="right:58.97px;top:383.20px;font-size:6.7px;-webkit-text-stroke:0.1px currentColor;letter-spacing:0.167px;transform:scaleX(0.76) skewX(-8deg);transform-origin:100% 100%;color:#2f7ec6;font-style:italic;">21,95 %</div>
<div class="t" style="right:165.70px;top:394.08px;font-size:6.8px;-webkit-text-stroke:0px;transform:scaleX(0.8162);transform-origin:100% 100%;">R$ 27.578,32</div>
<div class="t" style="right:111.30px;top:394.08px;font-size:6.8px;-webkit-text-stroke:0px;transform:scaleX(0.8456);transform-origin:100% 100%;">31 %</div>
<div class="t" style="right:59.10px;top:394.08px;font-size:6.8px;-webkit-text-stroke:0px;transform:scaleX(0.85);transform-origin:100% 100%;">-3 %</div>
<div class="t" style="right:8.60px;top:43.04px;font-size:6.8px;-webkit-text-stroke:0px;transform:scaleX(0.8162);transform-origin:100% 100%;">R$ 45.800,00</div>
<div class="t" style="right:8.46px;top:54.76px;font-size:5.8px;-webkit-text-stroke:0.06px currentColor;letter-spacing:0.190px;transform:scaleX(0.74);transform-origin:100% 100%;">R$ 45.800,00</div>
<div class="t" style="right:8.46px;top:65.73px;font-size:5.8px;-webkit-text-stroke:0.06px currentColor;letter-spacing:0.190px;transform:scaleX(0.74);transform-origin:100% 100%;">R$ 45.800,00</div>
<div class="t" style="right:8.46px;top:76.70px;font-size:5.8px;-webkit-text-stroke:0.06px currentColor;letter-spacing:0.190px;transform:scaleX(0.74) skewX(-8deg);transform-origin:100% 100%;font-style:italic;">R$ 35.000,00</div>
<div class="t" style="right:8.45px;top:98.64px;font-size:5.8px;-webkit-text-stroke:0.06px currentColor;letter-spacing:0.201px;transform:scaleX(0.74) skewX(-8deg);transform-origin:100% 100%;font-style:italic;">R$ 800,00</div>
<div class="t" style="right:8.46px;top:109.61px;font-size:5.8px;-webkit-text-stroke:0.06px currentColor;letter-spacing:0.190px;transform:scaleX(0.74) skewX(-8deg);transform-origin:100% 100%;font-style:italic;">R$ 10.000,00</div>
<div class="t" style="right:8.60px;top:119.83px;font-size:6.8px;-webkit-text-stroke:0px;transform:scaleX(0.8162);transform-origin:100% 100%;">- R$ 16.500,00</div>
<div class="t" style="right:8.47px;top:131.55px;font-size:5.8px;-webkit-text-stroke:0.06px currentColor;letter-spacing:0.177px;transform:scaleX(0.74);transform-origin:100% 100%;">- R$ 16.500,00</div>
<div class="t" style="right:8.47px;top:142.52px;font-size:5.8px;-webkit-text-stroke:0.06px currentColor;letter-spacing:0.177px;transform:scaleX(0.74);transform-origin:100% 100%;">- R$ 16.500,00</div>
<div class="t" style="right:8.47px;top:153.49px;font-size:5.8px;-webkit-text-stroke:0.06px currentColor;letter-spacing:0.176px;transform:scaleX(0.74) skewX(-8deg);transform-origin:100% 100%;font-style:italic;">- R$ 9.500,00</div>
<div class="t" style="right:8.47px;top:164.46px;font-size:5.8px;-webkit-text-stroke:0.06px currentColor;letter-spacing:0.176px;transform:scaleX(0.74) skewX(-8deg);transform-origin:100% 100%;font-style:italic;">- R$ 5.500,00</div>
<div class="t" style="right:8.47px;top:175.43px;font-size:5.8px;-webkit-text-stroke:0.06px currentColor;letter-spacing:0.176px;transform:scaleX(0.74) skewX(-8deg);transform-origin:100% 100%;font-style:italic;">- R$ 1.500,00</div>
<div class="t" style="right:8.60px;top:196.62px;font-size:6.8px;-webkit-text-stroke:0px;transform:scaleX(0.8162);transform-origin:100% 100%;">R$ 29.300,00</div>
<div class="t" style="right:8.60px;top:207.59px;font-size:6.8px;-webkit-text-stroke:0px;transform:scaleX(0.8162);transform-origin:100% 100%;">- R$ 18.000,00</div>
<div class="t" style="right:8.47px;top:219.31px;font-size:5.8px;-webkit-text-stroke:0.06px currentColor;letter-spacing:0.177px;transform:scaleX(0.74);transform-origin:100% 100%;">- R$ 18.000,00</div>
<div class="t" style="right:8.47px;top:230.28px;font-size:5.8px;-webkit-text-stroke:0.06px currentColor;letter-spacing:0.177px;transform:scaleX(0.74);transform-origin:100% 100%;">- R$ 18.000,00</div>
<div class="t" style="right:8.47px;top:241.25px;font-size:5.8px;-webkit-text-stroke:0.06px currentColor;letter-spacing:0.175px;transform:scaleX(0.74) skewX(-8deg);transform-origin:100% 100%;font-style:italic;">- R$ 11.000,00</div>
<div class="t" style="right:8.47px;top:252.22px;font-size:5.8px;-webkit-text-stroke:0.06px currentColor;letter-spacing:0.176px;transform:scaleX(0.74) skewX(-8deg);transform-origin:100% 100%;font-style:italic;">- R$ 7.000,00</div>
<div class="t" style="right:8.60px;top:262.44px;font-size:6.8px;-webkit-text-stroke:0px;transform:scaleX(0.8162);transform-origin:100% 100%;">R$ 11.300,00</div>
<div class="t" style="right:8.60px;top:273.41px;font-size:6.8px;-webkit-text-stroke:0px;transform:scaleX(0.8162);transform-origin:100% 100%;">- R$ 12.488,00</div>
<div class="t" style="right:8.47px;top:285.13px;font-size:5.8px;-webkit-text-stroke:0.06px currentColor;letter-spacing:0.177px;transform:scaleX(0.74);transform-origin:100% 100%;">- R$ 12.488,00</div>
<div class="t" style="right:8.47px;top:296.10px;font-size:5.8px;-webkit-text-stroke:0.06px currentColor;letter-spacing:0.177px;transform:scaleX(0.74);transform-origin:100% 100%;">- R$ 12.488,00</div>
<div class="t" style="right:8.47px;top:307.07px;font-size:5.8px;-webkit-text-stroke:0.06px currentColor;letter-spacing:0.176px;transform:scaleX(0.74) skewX(-8deg);transform-origin:100% 100%;font-style:italic;">- R$ 2.500,00</div>
<div class="t" style="right:8.47px;top:318.04px;font-size:5.8px;-webkit-text-stroke:0.06px currentColor;letter-spacing:0.176px;transform:scaleX(0.74) skewX(-8deg);transform-origin:100% 100%;font-style:italic;">- R$ 2.800,00</div>
<div class="t" style="right:8.47px;top:329.01px;font-size:5.8px;-webkit-text-stroke:0.06px currentColor;letter-spacing:0.182px;transform:scaleX(0.74) skewX(-8deg);transform-origin:100% 100%;font-style:italic;">- R$ 208,00</div>
<div class="t" style="right:8.47px;top:339.98px;font-size:5.8px;-webkit-text-stroke:0.06px currentColor;letter-spacing:0.176px;transform:scaleX(0.74) skewX(-8deg);transform-origin:100% 100%;font-style:italic;">- R$ 6.980,00</div>
<div class="t" style="right:8.60px;top:350.20px;font-size:6.8px;-webkit-text-stroke:0px;transform:scaleX(0.8162);transform-origin:100% 100%;">- R$ 1.188,00</div>
<div class="t" style="right:8.60px;top:394.08px;font-size:6.8px;-webkit-text-stroke:0px;transform:scaleX(0.8162);transform-origin:100% 100%;">- R$ 1.188,00</div>
<div class="a" style="left:18.8px;top:369.00px;width:203.00px;height:11.07px;border:1px solid #9c9c9c;border-top-color:#b0b0b0"></div>
<div class="t" style="left:173.80px;width:400px;text-align:center;top:5.90px;font-size:6.5px;-webkit-text-stroke:0px;transform:scaleX(0.965);transform-origin:50% 0;color:#fff;font-weight:bold;">DRE Gerencial CIGAM</div>
<svg class="a" style="left:0;top:0" width="110" height="18" viewBox="0 0 110 18">
<rect x="2.1" y="4.4" width="7.5" height="7.6" fill="#fff"/>
<path d="M3.65 5.8 V9.8 M3.4 6.2 H5 Q5.75 6.2 5.75 6.9 Q5.75 7.6 5 7.6 H3.6 M3.6 7.8 H5.15 Q5.95 7.8 5.95 8.6 Q5.95 9.4 5.15 9.4 H3.4" fill="none" stroke="#f5803e" stroke-width="0.85"/>
<rect x="7" y="5.8" width="1.1" height="4" fill="#f5803e"/>
<rect x="15.6" y="4.4" width="8.2" height="7.5" fill="none" stroke="#8dbde8" stroke-width="0.6"/>
<rect x="16.1" y="4.9" width="3.9" height="1.5" fill="#9cc6ea"/>
<rect x="15.8" y="7.4" width="4.2" height="4.4" fill="#fff"/>
<path d="M21 9 L22.5 9.6 L21 10.2Z" fill="#fff"/>
<rect x="28" y="4" width="0.8" height="8.6" fill="#6fa6da"/>
<rect x="32.9" y="4.1" width="8.3" height="8.6" fill="#fff"/>
<path d="M34.6 5.8 L39.5 11 M39.5 5.8 L34.6 11" stroke="#0a6fc2" stroke-width="1.5"/>
<path d="M49.6 7.8 Q52.6 4.9 54.6 7.2 Q55.6 8.5 54.6 10.7" fill="none" stroke="#fff" stroke-width="1.1"/>
<path d="M48.2 6.6 L48.6 9.2 L51 8.1Z" fill="#fff"/>
<rect x="60" y="4" width="0.8" height="8.6" fill="#6fa6da"/>
<rect x="64.9" y="4.2" width="8" height="7.5" fill="none" stroke="#a8cdee" stroke-width="0.9"/>
<rect x="65.3" y="4.6" width="7.2" height="2.9" fill="#9cc6ea"/>
<rect x="65.3" y="7.9" width="7.2" height="1.1" fill="#fff"/>
<rect x="65.3" y="9.9" width="7.2" height="1.1" fill="#fff"/>
<path d="M80 5 L86 5 L83.6 7.4 L83.6 11.2 L82.4 10.4 L82.4 7.4 Z" fill="#fff"/>
<rect x="85" y="8.2" width="2.6" height="0.9" fill="#b9d6f0"/>
<rect x="85" y="10.1" width="2.6" height="0.9" fill="#fff"/>
<rect x="85" y="11.6" width="2.6" height="0.9" fill="#9cc5ea"/>
<path d="M99.4 5.3 H95.8 Q94.9 5.3 94.9 6.2 V10.8 Q94.9 11.6 95.8 11.6 H100.6 Q101.4 11.6 101.4 10.8 V7.8" fill="none" stroke="#fff" stroke-width="0.9"/>
<path d="M97.1 9.6 L101.4 5.2" stroke="#fff" stroke-width="1.1"/>
</svg>
<svg class="a" style="left:680px;top:0" width="70" height="18" viewBox="0 0 70 18">
<rect x="5.6" y="8.6" width="5.6" height="0.6" fill="#9cc3e6"/>
<rect x="30.8" y="7" width="4.2" height="4.6" fill="none" stroke="#9cc3e6" stroke-width="0.7"/>
<path d="M32 6.2 L35.9 6.2 L35.9 10.4" fill="none" stroke="#9cc3e6" stroke-width="0.6"/>
<path d="M56 5.6 L61.2 10.8 M61.2 5.6 L56 10.8" stroke="#b8d4ee" stroke-width="0.6"/>
</svg>
<div class="a" style="left:0.00px;top:417.70px;width:750.00px;height:8.80px;background:#e9e9e9;"></div>
<div class="a" style="left:9.10px;top:417.70px;width:414.40px;height:8.80px;background:#c9c9c9;"></div>
<svg class="a" style="left:0;top:417.70px" width="10" height="9" viewBox="0 0 10 9"><path d="M5.4 2.6 L3.3 4.4 L5.4 6.2" fill="none" stroke="#606060" stroke-width="0.9"/></svg>
<svg class="a" style="left:740px;top:417.70px" width="10" height="9" viewBox="0 0 10 9"><path d="M3.6 2.6 L5.7 4.4 L3.6 6.2" fill="none" stroke="#606060" stroke-width="0.9"/></svg>
<div class="a" style="left:0.00px;top:445.60px;width:750.00px;height:1.40px;background:#ececec;"></div>
<div class="a" style="left:639.9px;top:430.8px;width:52.10px;height:11.8px;background:#d8d8d8;border:1px solid #9c9c9c"></div>
<svg class="a" style="left:642px;top:432px" width="12" height="10" viewBox="0 0 12 10"><path d="M1.5 8.2 L5 5 L6.5 6.4 L9.6 3" fill="none" stroke="#9a9a9a" stroke-width="0.6"/><path d="M8.6 2.6 L10 2.6 L10 4" fill="none" stroke="#9a9a9a" stroke-width="0.5"/></svg>
<div class="t" style="left:656.80px;top:434.18px;font-size:6.4px;-webkit-text-stroke:0px;transform:scaleX(0.8825);transform-origin:0 100%;color:#646464;">Indicadores</div>
<div class="a" style="left:697.9px;top:430.8px;width:49.80px;height:11.8px;background:#d8d8d8;border:1px solid #9c9c9c"></div>
<svg class="a" style="left:700px;top:432px" width="10" height="10" viewBox="0 0 10 10"><rect x="1.2" y="1.4" width="5.2" height="7" fill="none" stroke="#a5a5a5" stroke-width="0.6"/><path d="M2.4 3.4 H5.2 M2.4 5 H5.2 M2.4 6.6 H5.2" stroke="#b0b0b0" stroke-width="0.5"/></svg>
<div class="t" style="left:717.00px;top:434.18px;font-size:6.4px;-webkit-text-stroke:0px;transform:scaleX(0.8863);transform-origin:0 100%;color:#646464;">detalhar</div>
</body></html>
